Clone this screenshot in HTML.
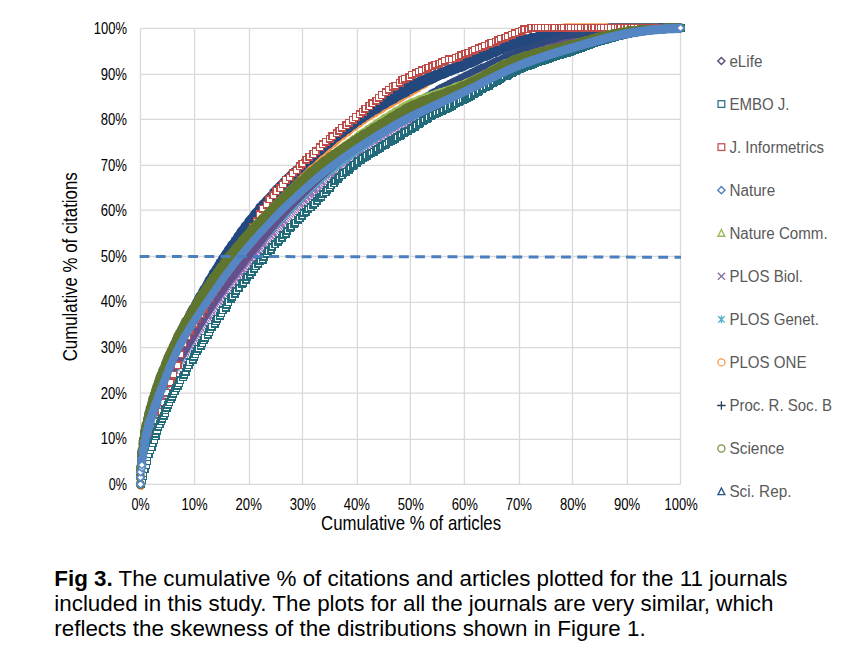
<!DOCTYPE html>
<html><head><meta charset="utf-8"><title>Fig 3</title><style>html,body{margin:0;padding:0;background:#fff}</style></head><body>
<svg width="846" height="667" viewBox="0 0 846 667" style="display:block;font-family:'Liberation Sans',sans-serif">
<rect width="846" height="667" fill="#fff"/>
<defs><marker id="mN" markerUnits="userSpaceOnUse" markerWidth="14" markerHeight="14" refX="7" refY="7" orient="0" overflow="visible"><path d="M7,2.20 L11.80,7 L7,11.80 L2.20,7Z" fill="#5687C4"/></marker><marker id="mNw" markerUnits="userSpaceOnUse" markerWidth="14" markerHeight="14" refX="7" refY="7" orient="0" overflow="visible"><path d="M7,3.30 L10.70,7 L7,10.70 L3.30,7Z" fill="#fff" stroke="#5687C4" stroke-width="1.40"/></marker><marker id="mE" markerUnits="userSpaceOnUse" markerWidth="14" markerHeight="14" refX="7" refY="7" orient="0" overflow="visible"><path d="M7,2.50 L11.50,7 L7,11.50 L2.50,7Z" fill="#66508A"/></marker><marker id="mT" markerUnits="userSpaceOnUse" markerWidth="14" markerHeight="14" refX="7" refY="7" orient="0" overflow="visible"><rect x="3.90" y="3.90" width="6.20" height="6.20" fill="#fff" stroke="#216B7A" stroke-width="1.80" shape-rendering="crispEdges"/></marker><marker id="mT2" markerUnits="userSpaceOnUse" markerWidth="14" markerHeight="14" refX="7" refY="7" orient="0" overflow="visible"><rect x="3.70" y="3.70" width="6.60" height="6.60" fill="#fff" stroke="#216B7A" stroke-width="1.40" shape-rendering="crispEdges"/></marker><marker id="mR" markerUnits="userSpaceOnUse" markerWidth="14" markerHeight="14" refX="7" refY="7" orient="0" overflow="visible"><rect x="3.73" y="3.73" width="6.55" height="6.55" fill="#fff" stroke="#BE4B48" stroke-width="1.45" shape-rendering="crispEdges"/></marker><marker id="mS" markerUnits="userSpaceOnUse" markerWidth="14" markerHeight="14" refX="7" refY="7" orient="0" overflow="visible"><circle cx="7" cy="7" r="4.30" fill="#60762F"/></marker><marker id="mO" markerUnits="userSpaceOnUse" markerWidth="14" markerHeight="14" refX="7" refY="7" orient="0" overflow="visible"><circle cx="7" cy="7" r="4.30" fill="#F79646"/></marker><marker id="mA" markerUnits="userSpaceOnUse" markerWidth="14" markerHeight="14" refX="7" refY="7" orient="0" overflow="visible"><circle cx="7" cy="7" r="4.40" fill="#23497F"/></marker><marker id="mC" markerUnits="userSpaceOnUse" markerWidth="14" markerHeight="14" refX="7" refY="7" orient="0" overflow="visible"><circle cx="7" cy="7" r="2.70" fill="#2E4A7E"/></marker><marker id="mB" markerUnits="userSpaceOnUse" markerWidth="14" markerHeight="14" refX="7" refY="7" orient="0" overflow="visible"><path d="M2.80,7 H11.20 M7,2.80 V11.20" fill="none" stroke="#23497F" stroke-width="1.60"/></marker><marker id="mG" markerUnits="userSpaceOnUse" markerWidth="14" markerHeight="14" refX="7" refY="7" orient="0" overflow="visible"><circle cx="7" cy="7" r="4.20" fill="#9BBB59"/></marker><marker id="mX" markerUnits="userSpaceOnUse" markerWidth="14" markerHeight="14" refX="7" refY="7" orient="0" overflow="visible"><path d="M3.60,3.60 L10.40,10.40 M10.40,3.60 L3.60,10.40" fill="none" stroke="#9966B2" stroke-width="1.10"/></marker><marker id="mAst" markerUnits="userSpaceOnUse" markerWidth="14" markerHeight="14" refX="7" refY="7" orient="0" overflow="visible"><path d="M3.70,3.70 L10.30,10.30 M10.30,3.70 L3.70,10.30 M7,3.30 V10.70" fill="none" stroke="#4BACC6" stroke-width="1.50"/></marker></defs>
<path d="M140.5,28.4V484.3M140.5,484.3H680.5M194.6,28.4V484.3M140.5,439.3H680.5M249.5,28.4V484.3M140.5,393.2H680.5M302.5,28.4V484.3M140.5,347.6H680.5M357.4,28.4V484.3M140.5,302.4H680.5M410.3,28.4V484.3M140.5,256.5H680.5M464.4,28.4V484.3M140.5,210.1H680.5M519.5,28.4V484.3M140.5,165.4H680.5M572.5,28.4V484.3M140.5,119.4H680.5M627.4,28.4V484.3M140.5,74.3H680.5M680.5,28.4V484.3M140.5,28.4H680.5" stroke="#D9D9D9" stroke-width="1.3" fill="none"/>
<polyline points="140.5,484.3 140.5,478.8 140.5,474.7 140.5,472.0 141.9,467.9 141.9,466.5 141.9,463.7 141.9,462.4 141.9,459.6 141.9,458.3 141.9,456.9 141.9,454.1 143.2,452.8 143.2,451.4 143.2,450.0 143.2,448.7 143.2,447.3 143.2,445.9 143.2,444.6 143.2,443.2 144.6,441.8 144.6,440.4 144.6,439.1 144.6,437.7 144.6,436.3 144.6,435.0 146.0,433.6 146.0,432.2 146.0,430.8 146.0,429.5 146.0,428.1 147.4,426.7 147.4,425.4 147.4,424.0 147.4,422.6 148.7,421.3 148.7,419.9 148.7,418.5 148.7,417.1 150.1,415.8 150.1,414.4 150.1,413.0 150.1,411.7 151.5,411.7 151.5,410.3 151.5,408.9 151.5,407.5 152.8,407.5 152.8,406.2 152.8,404.8 152.8,403.4 154.2,402.1 154.2,400.7 154.2,399.3 155.6,398.0 155.6,396.6 155.6,395.2 155.6,393.8 156.9,393.8 156.9,392.5 156.9,391.1 156.9,389.7 158.3,389.7 158.3,388.4 158.3,387.0 158.3,385.6 159.7,385.6 159.7,384.2 159.7,382.9 159.7,381.5 161.1,381.5 161.1,380.1 161.1,378.8 162.4,377.4 162.4,376.0 162.4,374.7 163.8,374.7 163.8,373.3 163.8,371.9 165.2,370.5 165.2,369.2 166.5,367.8 166.5,366.4 166.5,365.1 167.9,365.1 167.9,363.7 167.9,362.3 169.3,360.9 169.3,359.6 170.7,358.2 170.7,356.8 170.7,355.5 172.0,355.5 172.0,354.1 172.0,352.7 173.4,352.7 173.4,351.4 173.4,350.0 174.8,350.0 174.8,348.6 174.8,347.2 176.1,345.9 176.1,344.5 177.5,343.1 177.5,341.8 177.5,340.4 178.9,340.4 178.9,339.0 178.9,337.6 180.2,337.6 180.2,336.3 180.2,334.9 181.6,334.9 181.6,333.5 181.6,332.2 183.0,332.2 183.0,330.8 184.4,329.4 184.4,328.1 185.7,326.7 185.7,325.3 187.1,323.9 187.1,322.6 188.5,322.6 188.5,321.2 188.5,319.8 189.8,319.8 189.8,318.5 189.8,317.1 191.2,317.1 191.2,315.7 192.6,314.3 192.6,313.0 194.0,311.6 194.0,310.2 195.3,310.2 195.3,308.9 195.3,307.5 196.7,307.5 196.7,306.1 198.1,304.8 198.1,303.4 199.4,303.4 199.4,302.0 199.4,300.6 200.8,300.6 200.8,299.3 200.8,297.9 202.2,297.9 202.2,296.5 203.5,295.2 203.5,293.8 204.9,293.8 204.9,292.4 204.9,291.0 206.3,291.0 206.3,289.7 207.7,288.3 207.7,286.9 209.0,286.9 209.0,285.6 209.0,284.2 210.4,284.2 210.4,282.8 211.8,281.5 211.8,280.1 213.1,280.1 213.1,278.7 213.1,277.3 214.5,277.3 214.5,276.0 215.9,276.0 215.9,274.6 215.9,273.2 217.3,273.2 217.3,271.9 218.6,271.9 218.6,270.5 218.6,269.1 220.0,269.1 220.0,267.7 221.4,267.7 221.4,266.4 221.4,265.0 222.7,265.0 222.7,263.6 224.1,263.6 224.1,262.3 224.1,260.9 225.5,260.9 225.5,259.5 226.8,259.5 226.8,258.2 226.8,256.8 228.2,256.8 228.2,255.4 229.6,255.4 229.6,254.0 231.0,252.7 231.0,251.3 232.3,251.3 232.3,249.9 233.7,249.9 233.7,248.6 233.7,247.2 235.1,247.2 235.1,245.8 236.4,245.8 236.4,244.4 237.8,243.1 237.8,241.7 239.2,241.7 239.2,240.3 240.6,240.3 240.6,239.0 240.6,237.6 241.9,237.6 241.9,236.2 243.3,236.2 243.3,234.9 244.7,234.9 244.7,233.5 244.7,232.1 246.0,232.1 246.0,230.7 247.4,230.7 247.4,229.4 248.8,229.4 248.8,228.0 250.1,226.6 250.1,225.3 251.5,225.3 251.5,223.9 252.9,223.9 252.9,222.5 254.3,222.5 254.3,221.1 255.6,219.8 255.6,218.4 257.0,218.4 257.0,217.0 258.4,217.0 258.4,215.7 259.7,215.7 259.7,214.3 261.1,212.9 262.5,211.6 262.5,210.2 263.9,210.2 263.9,208.8 265.2,208.8 265.2,207.4 266.6,207.4 266.6,206.1 268.0,206.1 268.0,204.7 269.3,204.7 269.3,203.3 270.7,202.0 270.7,200.6 272.1,200.6 272.1,199.2 273.4,199.2 273.4,197.8 274.8,197.8 274.8,196.5 276.2,196.5 276.2,195.1 277.6,195.1 277.6,193.7 278.9,193.7 278.9,192.4 280.3,192.4 280.3,191.0 281.7,191.0 281.7,189.6 283.0,189.6 283.0,188.3 284.4,188.3 284.4,186.9 285.8,186.9 285.8,185.5 287.2,185.5 287.2,184.1 288.5,184.1 288.5,182.8 289.9,182.8 289.9,181.4 291.3,181.4 291.3,180.0 292.6,180.0 292.6,178.7 294.0,178.7 294.0,177.3 295.4,177.3 295.4,175.9 296.7,175.9 296.7,174.5 298.1,174.5 298.1,173.2 299.5,173.2 299.5,171.8 300.9,171.8 300.9,170.4 302.2,170.4 302.2,169.1 303.6,169.1 303.6,167.7 305.0,167.7 305.0,166.3 306.3,166.3 306.3,165.0 307.7,165.0 307.7,163.6 309.1,163.6 310.5,162.2 311.8,162.2 311.8,160.8 313.2,160.8 313.2,159.5 314.6,159.5 314.6,158.1 315.9,158.1 315.9,156.7 317.3,156.7 317.3,155.4 318.7,155.4 318.7,154.0 320.0,154.0 320.0,152.6 321.4,152.6 322.8,151.2 324.2,149.9 325.5,149.9 325.5,148.5 326.9,148.5 326.9,147.1 328.3,147.1 328.3,145.8 329.6,145.8 329.6,144.4 331.0,144.4 331.0,143.0 332.4,143.0 333.8,143.0 333.8,141.6 335.1,141.6 335.1,140.3 336.5,140.3 336.5,138.9 337.9,138.9 337.9,137.5 339.2,137.5 340.6,136.2 342.0,136.2 342.0,134.8 343.3,134.8 343.3,133.4 344.7,133.4 344.7,132.1 346.1,132.1 347.5,132.1 347.5,130.7 348.8,130.7 348.8,129.3 350.2,129.3 350.2,127.9 351.6,127.9 352.9,126.6 354.3,126.6 354.3,125.2 355.7,125.2 355.7,123.8 357.1,123.8 358.4,123.8 358.4,122.5 359.8,122.5 359.8,121.1 361.2,121.1 362.5,119.7 363.9,119.7 363.9,118.3 365.3,118.3 365.3,117.0 366.6,117.0 368.0,117.0 368.0,115.6 369.4,115.6 369.4,114.2 370.8,114.2 372.1,114.2 372.1,112.9 373.5,112.9 374.9,112.9 374.9,111.5 376.2,111.5 376.2,110.1 377.6,110.1 379.0,110.1 379.0,108.8 380.4,108.8 381.7,108.8 381.7,107.4 383.1,107.4 383.1,106.0 384.5,106.0 385.8,106.0 385.8,104.6 387.2,104.6 388.6,104.6 388.6,103.3 389.9,103.3 391.3,103.3 391.3,101.9 392.7,101.9 394.1,100.5 395.4,100.5 395.4,99.2 396.8,99.2 398.2,99.2 398.2,97.8 399.5,97.8 400.9,97.8 400.9,96.4 402.3,96.4 403.7,95.0 405.0,95.0 405.0,93.7 406.4,93.7 407.8,93.7 407.8,92.3 409.1,92.3 410.5,92.3 410.5,90.9 411.9,90.9 411.9,89.6 413.2,89.6 414.6,89.6 414.6,88.2 416.0,88.2 417.4,88.2 417.4,86.8 418.7,86.8 420.1,85.5 421.5,85.5 421.5,84.1 422.8,84.1 424.2,84.1 424.2,82.7 425.6,82.7 427.0,81.3 428.3,81.3 428.3,80.0 429.7,80.0 431.1,80.0 431.1,78.6 432.4,78.6 432.4,77.2 433.8,77.2 435.2,77.2 435.2,75.9 436.5,75.9 437.9,75.9 437.9,74.5 439.3,74.5 440.7,74.5 440.7,73.1 442.0,73.1 443.4,73.1 444.8,71.7 446.1,71.7 447.5,71.7 447.5,70.4 448.9,70.4 450.3,70.4 450.3,69.0 451.6,69.0 453.0,69.0 454.4,69.0 454.4,67.6 455.7,67.6 457.1,67.6 457.1,66.3 458.5,66.3 459.8,66.3 461.2,66.3 461.2,64.9 462.6,64.9 464.0,64.9 464.0,63.5 465.3,63.5 466.7,63.5 466.7,62.2 468.1,62.2 469.4,62.2 469.4,60.8 470.8,60.8 472.2,60.8 472.2,59.4 473.6,59.4 474.9,59.4 474.9,58.0 476.3,58.0 476.3,56.7 477.7,56.7 479.0,56.7 479.0,55.3 480.4,55.3 481.8,55.3 481.8,53.9 483.2,53.9 484.5,53.9 484.5,52.6 485.9,52.6 487.3,52.6 487.3,51.2 488.6,51.2 490.0,51.2 490.0,49.8 491.4,49.8 492.7,49.8 494.1,49.8 494.1,48.4 495.5,48.4 496.9,48.4 496.9,47.1 498.2,47.1 499.6,47.1 501.0,47.1 501.0,45.7 502.3,45.7 503.7,45.7 505.1,45.7 505.1,44.3 506.5,44.3 507.8,44.3 509.2,44.3 510.6,44.3 510.6,43.0 511.9,43.0 513.3,43.0 514.7,43.0 516.0,41.6 517.4,41.6 518.8,41.6 520.2,41.6 520.2,40.2 521.5,40.2 522.9,40.2 524.3,40.2 525.6,40.2 527.0,40.2 527.0,38.9 528.4,38.9 529.8,38.9 531.1,38.9 532.5,38.9 533.9,38.9 533.9,37.5 535.2,37.5 536.6,37.5 538.0,37.5 538.0,36.1 539.3,36.1 540.7,36.1 542.1,36.1 542.1,34.7 543.5,34.7 544.8,34.7 544.8,33.4 546.2,33.4 547.6,33.4 548.9,33.4 548.9,32.0 550.3,32.0 551.7,32.0 553.1,32.0 553.1,30.6 554.4,30.6 555.8,30.6 557.2,30.6 557.2,29.3 558.5,29.3 559.9,29.3 561.3,29.3 562.6,29.3 564.0,29.3 564.0,27.9 565.4,27.9 566.8,27.9 568.1,27.9 569.5,27.9 570.9,27.9 572.2,27.9 573.6,27.9 575.0,27.9 576.4,27.9 577.7,27.9 579.1,27.9 580.5,27.9 581.8,27.9 583.2,27.9 584.6,27.9 585.9,27.9 587.3,27.9 588.7,27.9 590.1,27.9 591.4,27.9 592.8,27.9 594.2,27.9 595.5,27.9 596.9,27.9 598.3,27.9 599.7,27.9 601.0,27.9 602.4,27.9 603.8,27.9 605.1,27.9 606.5,27.9 607.9,27.9 609.2,27.9 610.6,27.9 612.0,27.9 613.4,27.9 614.7,27.9 616.1,27.9 617.5,27.9 618.8,27.9 620.2,27.9 621.6,27.9 623.0,27.9 624.3,27.9 625.7,27.9 627.1,27.9 628.4,27.9 629.8,27.9 631.2,27.9 632.5,27.9 633.9,27.9 635.3,27.9 636.7,27.9 638.0,27.9 639.4,27.9 640.8,27.9 642.1,27.9 643.5,27.9 644.9,27.9 646.3,27.9 647.6,27.9 649.0,27.9 650.4,27.9 651.7,27.9 653.1,27.9 654.5,27.9 655.8,27.9 657.2,27.9 658.6,27.9 660.0,27.9 661.3,27.9 662.7,27.9 664.1,27.9 665.4,27.9 666.8,27.9 668.2,27.9 669.6,27.9 670.9,27.9 672.3,27.9 673.7,27.9 675.0,27.9 676.4,27.9 677.8,27.9 679.1,27.9 680.5,27.9" fill="none" stroke="none" marker-start="url(#mO)" marker-mid="url(#mO)" marker-end="url(#mO)"/>
<circle cx="140.9" cy="485.6" r="4.4" fill="#F79646"/>
<polyline points="140.5,484.3 141.9,472.0 141.9,463.7 143.2,456.9 143.2,451.4 144.6,445.9 146.0,441.8 146.0,437.7 147.4,433.6 148.7,430.8 148.7,428.1 150.1,425.4 150.1,422.6 151.5,419.9 152.8,417.1 152.8,415.8 154.2,413.0 154.2,411.7 155.6,408.9 156.9,407.5 156.9,404.8 158.3,403.4 159.7,400.7 159.7,399.3 161.1,396.6 161.1,395.2 162.4,393.8 163.8,391.1 163.8,389.7 165.2,388.4 165.2,385.6 166.5,384.2 167.9,382.9 167.9,381.5 169.3,380.1 170.7,377.4 170.7,376.0 172.0,374.7 172.0,373.3 173.4,371.9 174.8,370.5 174.8,369.2 176.1,367.8 176.1,366.4 177.5,365.1 178.9,363.7 178.9,362.3 180.2,360.9 181.6,359.6 181.6,358.2 183.0,356.8 183.0,355.5 184.4,354.1 185.7,352.7 185.7,351.4 187.1,350.0 187.1,348.6 188.5,347.2 189.8,345.9 189.8,344.5 191.2,343.1 192.6,341.8 192.6,340.4 194.0,339.0 194.0,337.6 195.3,336.3 196.7,334.9 196.7,333.5 198.1,332.2 198.1,330.8 199.4,329.4 200.8,328.1 200.8,326.7 202.2,325.3 203.5,323.9 203.5,322.6 204.9,321.2 204.9,319.8 206.3,318.5 207.7,317.1 207.7,315.7 209.0,315.7 209.0,314.3 210.4,313.0 211.8,311.6 211.8,310.2 213.1,308.9 214.5,307.5 214.5,306.1 215.9,304.8 217.3,303.4 218.6,302.0 218.6,300.6 220.0,299.3 220.0,297.9 221.4,296.5 222.7,296.5 222.7,295.2 224.1,293.8 225.5,292.4 225.5,291.0 226.8,289.7 228.2,288.3 229.6,286.9 229.6,285.6 231.0,284.2 232.3,282.8 233.7,281.5 233.7,280.1 235.1,278.7 236.4,278.7 236.4,277.3 237.8,276.0 237.8,274.6 239.2,273.2 240.6,273.2 240.6,271.9 241.9,270.5 241.9,269.1 243.3,269.1 244.7,267.7 244.7,266.4 246.0,265.0 247.4,263.6 248.8,262.3 248.8,260.9 250.1,259.5 251.5,259.5 251.5,258.2 252.9,256.8 252.9,255.4 254.3,255.4 255.6,254.0 255.6,252.7 257.0,251.3 258.4,251.3 258.4,249.9 259.7,248.6 261.1,247.2 262.5,245.8 262.5,244.4 263.9,244.4 263.9,243.1 265.2,241.7 266.6,240.3 268.0,239.0 269.3,237.6 270.7,236.2 270.7,234.9 272.1,233.5 273.4,233.5 273.4,232.1 274.8,230.7 276.2,229.4 277.6,228.0 278.9,226.6 280.3,225.3 280.3,223.9 281.7,223.9 281.7,222.5 283.0,221.1 284.4,221.1 284.4,219.8 285.8,218.4 287.2,217.0 288.5,215.7 289.9,214.3 291.3,212.9 292.6,211.6 294.0,210.2 295.4,208.8 296.7,207.4 298.1,206.1 299.5,204.7 299.5,203.3 300.9,203.3 302.2,202.0 303.6,200.6 303.6,199.2 305.0,199.2 306.3,197.8 306.3,196.5 307.7,196.5 309.1,195.1 309.1,193.7 310.5,193.7 310.5,192.4 311.8,192.4 313.2,191.0 313.2,189.6 314.6,189.6 314.6,188.3 315.9,188.3 317.3,186.9 317.3,185.5 318.7,185.5 320.0,184.1 321.4,182.8 321.4,181.4 322.8,181.4 324.2,180.0 325.5,178.7 326.9,177.3 328.3,175.9 329.6,174.5 331.0,174.5 331.0,173.2 332.4,173.2 332.4,171.8 333.8,171.8 335.1,170.4 336.5,169.1 337.9,167.7 339.2,167.7 339.2,166.3 340.6,166.3 342.0,165.0 343.3,163.6 344.7,162.2 346.1,162.2 346.1,160.8 347.5,160.8 347.5,159.5 348.8,159.5 350.2,158.1 351.6,156.7 352.9,156.7 354.3,155.4 355.7,154.0 357.1,154.0 357.1,152.6 358.4,152.6 358.4,151.2 359.8,151.2 361.2,151.2 361.2,149.9 362.5,149.9 363.9,148.5 365.3,147.1 366.6,147.1 368.0,145.8 369.4,144.4 370.8,144.4 372.1,143.0 373.5,141.6 374.9,141.6 374.9,140.3 376.2,140.3 377.6,138.9 379.0,138.9 379.0,137.5 380.4,137.5 381.7,136.2 383.1,136.2 384.5,134.8 385.8,134.8 385.8,133.4 387.2,133.4 388.6,132.1 389.9,132.1 391.3,130.7 392.7,129.3 394.1,129.3 395.4,127.9 396.8,127.9 398.2,126.6 399.5,125.2 400.9,125.2 402.3,123.8 403.7,123.8 405.0,122.5 406.4,122.5 407.8,121.1 409.1,121.1 409.1,119.7 410.5,119.7 411.9,119.7 411.9,118.3 413.2,118.3 414.6,117.0 416.0,117.0 417.4,115.6 418.7,115.6 420.1,114.2 421.5,114.2 422.8,112.9 424.2,112.9 425.6,111.5 427.0,111.5 428.3,110.1 429.7,110.1 431.1,110.1 431.1,108.8 432.4,108.8 433.8,108.8 433.8,107.4 435.2,107.4 436.5,107.4 437.9,106.0 439.3,106.0 440.7,104.6 442.0,104.6 443.4,103.3 444.8,103.3 446.1,101.9 447.5,101.9 448.9,101.9 448.9,100.5 450.3,100.5 451.6,100.5 453.0,99.2 454.4,99.2 455.7,97.8 457.1,97.8 458.5,96.4 459.8,96.4 461.2,95.0 462.6,95.0 464.0,93.7 465.3,93.7 466.7,93.7 466.7,92.3 468.1,92.3 469.4,90.9 470.8,90.9 472.2,89.6 473.6,89.6 474.9,88.2 476.3,88.2 477.7,86.8 479.0,86.8 480.4,85.5 481.8,85.5 483.2,84.1 484.5,84.1 485.9,82.7 487.3,82.7 488.6,81.3 490.0,81.3 490.0,80.0 491.4,80.0 492.7,80.0 492.7,78.6 494.1,78.6 495.5,78.6 495.5,77.2 496.9,77.2 498.2,75.9 499.6,75.9 501.0,74.5 502.3,74.5 503.7,74.5 503.7,73.1 505.1,73.1 506.5,73.1 506.5,71.7 507.8,71.7 509.2,70.4 510.6,70.4 511.9,70.4 511.9,69.0 513.3,69.0 514.7,69.0 516.0,67.6 517.4,67.6 518.8,66.3 520.2,66.3 521.5,66.3 521.5,64.9 522.9,64.9 524.3,64.9 525.6,64.9 525.6,63.5 527.0,63.5 528.4,63.5 529.8,62.2 531.1,62.2 532.5,62.2 532.5,60.8 533.9,60.8 535.2,60.8 536.6,60.8 536.6,59.4 538.0,59.4 539.3,59.4 540.7,58.0 542.1,58.0 543.5,58.0 544.8,56.7 546.2,56.7 547.6,56.7 548.9,55.3 550.3,55.3 551.7,55.3 553.1,53.9 554.4,53.9 555.8,53.9 557.2,52.6 558.5,52.6 559.9,52.6 561.3,52.6 561.3,51.2 562.6,51.2 564.0,51.2 565.4,51.2 566.8,49.8 568.1,49.8 569.5,49.8 570.9,48.4 572.2,48.4 573.6,48.4 575.0,47.1 576.4,47.1 577.7,47.1 579.1,47.1 580.5,45.7 581.8,45.7 583.2,45.7 584.6,44.3 585.9,44.3 587.3,44.3 588.7,44.3 590.1,43.0 591.4,43.0 592.8,43.0 594.2,41.6 595.5,41.6 596.9,41.6 598.3,41.6 598.3,40.2 599.7,40.2 601.0,40.2 602.4,40.2 603.8,38.9 605.1,38.9 606.5,38.9 607.9,38.9 609.2,37.5 610.6,37.5 612.0,37.5 613.4,37.5 614.7,36.1 616.1,36.1 617.5,36.1 618.8,36.1 620.2,36.1 620.2,34.7 621.6,34.7 623.0,34.7 624.3,34.7 625.7,34.7 627.1,34.7 627.1,33.4 628.4,33.4 629.8,33.4 631.2,33.4 632.5,33.4 633.9,33.4 635.3,32.0 636.7,32.0 638.0,32.0 639.4,32.0 640.8,32.0 642.1,32.0 643.5,30.6 644.9,30.6 646.3,30.6 647.6,30.6 649.0,30.6 650.4,30.6 651.7,30.6 653.1,30.6 654.5,29.3 655.8,29.3 657.2,29.3 658.6,29.3 660.0,29.3 661.3,29.3 662.7,29.3 664.1,29.3 665.4,29.3 666.8,29.3 668.2,29.3 669.6,29.3 670.9,29.3 672.3,29.3 673.7,29.3 675.0,27.9 676.4,27.9 677.8,27.9 679.1,27.9 680.5,27.9" fill="none" stroke="none" marker-start="url(#mX)" marker-mid="url(#mX)" marker-end="url(#mX)"/>
<polyline points="140.5,484.3 141.1,474.7 141.7,467.9 142.3,462.4 142.9,457.7 143.5,453.5 144.1,449.7 144.7,446.2 145.3,442.9 145.9,439.8 146.5,436.9 147.1,434.3 147.7,431.9 148.3,429.6 148.9,427.5 149.5,425.4 150.1,423.5 150.7,421.6 151.3,419.7 151.9,418.0 152.5,416.2 153.1,414.5 153.7,412.9 154.3,411.2 154.9,409.6 155.5,408.1 156.1,406.5 156.7,405.0 157.3,403.5 157.9,402.0 158.5,400.5 159.1,399.0 159.7,397.5 160.3,396.1 160.9,394.6 161.5,393.2 162.1,391.8 162.7,390.4 163.3,389.1 163.9,387.8 164.5,386.5 165.1,385.3 165.7,384.0 166.3,382.8 166.9,381.6 167.5,380.5 168.1,379.3 168.7,378.2 169.3,377.1 169.9,376.0 170.5,374.9 171.1,373.8 171.7,372.7 172.3,371.7 172.9,370.6 173.5,369.5 174.1,368.5 174.7,367.5 175.3,366.4 175.9,365.4 176.5,364.4 177.1,363.3 177.7,362.3 178.3,361.3 178.9,360.3 179.5,359.3 180.1,358.2 180.7,357.2 181.3,356.2 181.9,355.2 182.5,354.2 183.1,353.1 183.7,352.1 184.3,351.1 184.9,350.0 185.5,349.0 186.1,348.0 186.7,346.9 187.3,345.8 187.9,344.8 188.5,343.7 189.1,342.7 189.7,341.6 190.3,340.6 190.9,339.5 191.5,338.4 192.1,337.4 192.7,336.3 193.3,335.3 193.9,334.2 194.5,333.2 195.1,332.1 195.7,331.1 196.3,330.0 196.9,329.0 197.5,328.0 198.1,326.9 198.7,325.9 199.3,324.9 199.9,323.9 200.5,322.8 201.1,321.8 201.7,320.8 202.3,319.8 202.9,318.8 203.5,317.8 204.1,316.8 204.7,315.8 205.3,314.8 205.9,313.9 206.5,312.9 207.1,311.9 207.7,311.0 208.3,310.0 208.9,309.0 209.5,308.1 210.1,307.2 210.7,306.2 211.3,305.3 211.9,304.4 212.5,303.5 213.1,302.6 213.7,301.6 214.3,300.8 214.9,299.9 215.5,299.0 216.1,298.1 216.7,297.2 217.3,296.3 217.9,295.5 218.5,294.6 219.1,293.7 219.7,292.9 220.3,292.0 220.9,291.2 221.5,290.3 222.1,289.5 222.7,288.7 223.3,287.8 223.9,287.0 224.5,286.2 225.1,285.3 225.7,284.5 226.3,283.7 226.9,282.9 227.5,282.1 228.1,281.3 228.7,280.5 229.3,279.7 229.9,278.9 230.5,278.1 231.1,277.3 231.7,276.5 232.3,275.7 232.9,274.9 233.5,274.1 234.1,273.3 234.7,272.6 235.3,271.8 235.9,271.0 236.5,270.2 237.1,269.5 237.7,268.7 238.3,267.9 238.9,267.2 239.5,266.4 240.1,265.6 240.7,264.9 241.3,264.1 241.9,263.4 242.5,262.6 243.1,261.9 243.7,261.1 244.3,260.4 244.9,259.6 245.5,258.9 246.1,258.1 246.7,257.4 247.3,256.6 247.9,255.9 248.5,255.1 249.1,254.4 249.7,253.7 250.3,252.9 250.9,252.2 251.5,251.5 252.1,250.7 252.7,250.0 253.3,249.3 253.9,248.6 254.5,247.8 255.1,247.1 255.7,246.4 256.3,245.7 256.9,245.0 257.5,244.3 258.1,243.5 258.7,242.8 259.3,242.1 259.9,241.4 260.5,240.7 261.1,240.0 261.7,239.3 262.3,238.6 262.9,237.9 263.5,237.2 264.1,236.5 264.7,235.8 265.3,235.2 265.9,234.5 266.5,233.8 267.1,233.1 267.7,232.4 268.3,231.7 268.9,231.1 269.5,230.4 270.1,229.7 270.7,229.0 271.3,228.4 271.9,227.7 272.5,227.0 273.1,226.3 273.7,225.7 274.3,225.0 274.9,224.4 275.5,223.7 276.1,223.0 276.7,222.4 277.3,221.7 277.9,221.1 278.5,220.4 279.1,219.8 279.7,219.1 280.3,218.5 280.9,217.8 281.5,217.2 282.1,216.5 282.7,215.9 283.3,215.3 283.9,214.6 284.5,214.0 285.1,213.3 285.7,212.7 286.3,212.1 286.9,211.5 287.5,210.8 288.1,210.2 288.7,209.6 289.3,209.0 289.9,208.3 290.5,207.7 291.1,207.1 291.7,206.5 292.3,205.8 292.9,205.2 293.5,204.6 294.1,204.0 294.7,203.4 295.3,202.7 295.9,202.1 296.5,201.5 297.1,200.9 297.7,200.3 298.3,199.6 298.9,199.0 299.5,198.4 300.1,197.8 300.7,197.2 301.3,196.6 301.9,196.0 302.5,195.4 303.1,194.8 303.7,194.2 304.3,193.6 304.9,193.0 305.5,192.4 306.1,191.8 306.7,191.2 307.3,190.6 307.9,190.0 308.5,189.4 309.1,188.8 309.7,188.2 310.3,187.6 310.9,187.0 311.5,186.4 312.1,185.9 312.7,185.3 313.3,184.7 313.9,184.1 314.5,183.6 315.1,183.0 315.7,182.4 316.3,181.9 316.9,181.3 317.5,180.7 318.1,180.2 318.7,179.6 319.3,179.1 319.9,178.5 320.5,178.0 321.1,177.4 321.7,176.9 322.3,176.3 322.9,175.8 323.5,175.3 324.1,174.7 324.7,174.2 325.3,173.7 325.9,173.2 326.5,172.6 327.1,172.1 327.7,171.6 328.3,171.1 328.9,170.6 329.5,170.1 330.1,169.6 330.7,169.1 331.3,168.6 331.9,168.1 332.5,167.6 333.1,167.1 333.7,166.6 334.3,166.1 334.9,165.6 335.5,165.2 336.1,164.7 336.7,164.2 337.3,163.7 337.9,163.3 338.5,162.8 339.1,162.3 339.7,161.9 340.3,161.4 340.9,160.9 341.5,160.5 342.1,160.0 342.7,159.6 343.3,159.1 343.9,158.7 344.5,158.2 345.1,157.7 345.7,157.3 346.3,156.9 346.9,156.4 347.5,156.0 348.1,155.5 348.7,155.1 349.3,154.6 349.9,154.2 350.5,153.8 351.1,153.3 351.7,152.9 352.3,152.4 352.9,152.0 353.5,151.6 354.1,151.2 354.7,150.7 355.3,150.3 355.9,149.9 356.5,149.4 357.1,149.0 357.7,148.6 358.3,148.2 358.9,147.8 359.5,147.3 360.1,146.9 360.7,146.5 361.3,146.1 361.9,145.7 362.5,145.3 363.1,144.9 363.7,144.5 364.3,144.1 364.9,143.7 365.5,143.2 366.1,142.8 366.7,142.4 367.3,142.0 367.9,141.6 368.5,141.2 369.1,140.8 369.7,140.5 370.3,140.1 370.9,139.7 371.5,139.3 372.1,138.9 372.7,138.5 373.3,138.1 373.9,137.7 374.5,137.3 375.1,137.0 375.7,136.6 376.3,136.2 376.9,135.8 377.5,135.4 378.1,135.1 378.7,134.7 379.3,134.3 379.9,133.9 380.5,133.6 381.1,133.2 381.7,132.8 382.3,132.5 382.9,132.1 383.5,131.7 384.1,131.4 384.7,131.0 385.3,130.6 385.9,130.3 386.5,129.9 387.1,129.5 387.7,129.2 388.3,128.8 388.9,128.5 389.5,128.1 390.1,127.8 390.7,127.4 391.3,127.1 391.9,126.7 392.5,126.4 393.1,126.0 393.7,125.7 394.3,125.3 394.9,125.0 395.5,124.7 396.1,124.3 396.7,124.0 397.3,123.6 397.9,123.3 398.5,123.0 399.1,122.6 399.7,122.3 400.3,122.0 400.9,121.6 401.5,121.3 402.1,121.0 402.7,120.6 403.3,120.3 403.9,120.0 404.5,119.7 405.1,119.3 405.7,119.0 406.3,118.7 406.9,118.4 407.5,118.1 408.1,117.8 408.7,117.5 409.3,117.1 409.9,116.8 410.5,116.5 411.1,116.2 411.7,115.9 412.3,115.6 412.9,115.3 413.5,115.1 414.1,114.8 414.7,114.5 415.3,114.2 415.9,113.9 416.5,113.6 417.1,113.3 417.7,113.0 418.3,112.8 418.9,112.5 419.5,112.2 420.1,111.9 420.7,111.6 421.3,111.4 421.9,111.1 422.5,110.8 423.1,110.6 423.7,110.3 424.3,110.0 424.9,109.7 425.5,109.5 426.1,109.2 426.7,108.9 427.3,108.7 427.9,108.4 428.5,108.2 429.1,107.9 429.7,107.6 430.3,107.4 430.9,107.1 431.5,106.9 432.1,106.6 432.7,106.3 433.3,106.1 433.9,105.8 434.5,105.6 435.1,105.3 435.7,105.0 436.3,104.8 436.9,104.5 437.5,104.3 438.1,104.0 438.7,103.8 439.3,103.5 439.9,103.3 440.5,103.0 441.1,102.7 441.7,102.5 442.3,102.2 442.9,102.0 443.5,101.7 444.1,101.5 444.7,101.2 445.3,101.0 445.9,100.7 446.5,100.4 447.1,100.2 447.7,99.9 448.3,99.7 448.9,99.4 449.5,99.2 450.1,98.9 450.7,98.6 451.3,98.4 451.9,98.1 452.5,97.9 453.1,97.6 453.7,97.3 454.3,97.1 454.9,96.8 455.5,96.5 456.1,96.3 456.7,96.0 457.3,95.7 457.9,95.5 458.5,95.2 459.1,94.9 459.7,94.7 460.3,94.4 460.9,94.1 461.5,93.8 462.1,93.6 462.7,93.3 463.3,93.0 463.9,92.7 464.5,92.5 465.1,92.2 465.7,91.9 466.3,91.6 466.9,91.3 467.5,91.0 468.1,90.7 468.7,90.4 469.3,90.2 469.9,89.9 470.5,89.6 471.1,89.3 471.7,89.0 472.3,88.7 472.9,88.4 473.5,88.1 474.1,87.8 474.7,87.5 475.3,87.2 475.9,86.9 476.5,86.6 477.1,86.3 477.7,86.0 478.3,85.7 478.9,85.3 479.5,85.0 480.1,84.7 480.7,84.4 481.3,84.1 481.9,83.8 482.5,83.5 483.1,83.2 483.7,82.9 484.3,82.6 484.9,82.3 485.5,82.0 486.1,81.6 486.7,81.3 487.3,81.0 487.9,80.7 488.5,80.4 489.1,80.1 489.7,79.8 490.3,79.5 490.9,79.2 491.5,78.9 492.1,78.6 492.7,78.3 493.3,78.0 493.9,77.6 494.5,77.3 495.1,77.0 495.7,76.7 496.3,76.4 496.9,76.1 497.5,75.8 498.1,75.5 498.7,75.2 499.3,74.9 499.9,74.6 500.5,74.3 501.1,74.1 501.7,73.8 502.3,73.5 502.9,73.2 503.5,72.9 504.1,72.6 504.7,72.3 505.3,72.0 505.9,71.7 506.5,71.5 507.1,71.2 507.7,70.9 508.3,70.6 508.9,70.3 509.5,70.1 510.1,69.8 510.7,69.5 511.3,69.3 511.9,69.0 512.5,68.7 513.1,68.5 513.7,68.2 514.3,68.0 514.9,67.7 515.5,67.4 516.1,67.2 516.7,66.9 517.3,66.7 517.9,66.4 518.5,66.2 519.1,66.0 519.7,65.7 520.3,65.5 520.9,65.2 521.5,65.0 522.1,64.8 522.7,64.5 523.3,64.3 523.9,64.1 524.5,63.9 525.1,63.6 525.7,63.4 526.3,63.2 526.9,62.9 527.5,62.7 528.1,62.5 528.7,62.3 529.3,62.1 529.9,61.8 530.5,61.6 531.1,61.4 531.7,61.2 532.3,61.0 532.9,60.7 533.5,60.5 534.1,60.3 534.7,60.1 535.3,59.9 535.9,59.7 536.5,59.5 537.1,59.3 537.7,59.0 538.3,58.8 538.9,58.6 539.5,58.4 540.1,58.2 540.7,58.0 541.3,57.8 541.9,57.6 542.5,57.4 543.1,57.2 543.7,57.0 544.3,56.8 544.9,56.6 545.5,56.4 546.1,56.2 546.7,56.0 547.3,55.8 547.9,55.6 548.5,55.4 549.1,55.2 549.7,55.0 550.3,54.8 550.9,54.6 551.5,54.4 552.1,54.2 552.7,54.1 553.3,53.9 553.9,53.7 554.5,53.5 555.1,53.3 555.7,53.1 556.3,52.9 556.9,52.7 557.5,52.5 558.1,52.4 558.7,52.2 559.3,52.0 559.9,51.8 560.5,51.6 561.1,51.4 561.7,51.2 562.3,51.1 562.9,50.9 563.5,50.7 564.1,50.5 564.7,50.3 565.3,50.1 565.9,50.0 566.5,49.8 567.1,49.6 567.7,49.4 568.3,49.2 568.9,49.1 569.5,48.9 570.1,48.7 570.7,48.5 571.3,48.4 571.9,48.2 572.5,48.0 573.1,47.8 573.7,47.6 574.3,47.5 574.9,47.3 575.5,47.1 576.1,46.9 576.7,46.8 577.3,46.6 577.9,46.4 578.5,46.2 579.1,46.0 579.7,45.9 580.3,45.7 580.9,45.5 581.5,45.3 582.1,45.1 582.7,45.0 583.3,44.8 583.9,44.6 584.5,44.4 585.1,44.2 585.7,44.1 586.3,43.9 586.9,43.7 587.5,43.5 588.1,43.4 588.7,43.2 589.3,43.0 589.9,42.8 590.5,42.6 591.1,42.5 591.7,42.3 592.3,42.1 592.9,41.9 593.5,41.8 594.1,41.6 594.7,41.4 595.3,41.3 595.9,41.1 596.5,40.9 597.1,40.7 597.7,40.6 598.3,40.4 598.9,40.2 599.5,40.1 600.1,39.9 600.7,39.7 601.3,39.6 601.9,39.4 602.5,39.2 603.1,39.1 603.7,38.9 604.3,38.8 604.9,38.6 605.5,38.4 606.1,38.3 606.7,38.1 607.3,38.0 607.9,37.8 608.5,37.7 609.1,37.5 609.7,37.4 610.3,37.2 610.9,37.1 611.5,36.9 612.1,36.8 612.7,36.6 613.3,36.5 613.9,36.4 614.5,36.2 615.1,36.1 615.7,35.9 616.3,35.8 616.9,35.7 617.5,35.5 618.1,35.4 618.7,35.3 619.3,35.2 619.9,35.0 620.5,34.9 621.1,34.8 621.7,34.7 622.3,34.5 622.9,34.4 623.5,34.3 624.1,34.2 624.7,34.1 625.3,34.0 625.9,33.9 626.5,33.8 627.1,33.7 627.7,33.5 628.3,33.4 628.9,33.3 629.5,33.2 630.1,33.1 630.7,33.0 631.3,32.9 631.9,32.8 632.5,32.7 633.1,32.6 633.7,32.5 634.3,32.4 634.9,32.3 635.5,32.2 636.1,32.2 636.7,32.1 637.3,32.0 637.9,31.9 638.5,31.8 639.1,31.7 639.7,31.6 640.3,31.5 640.9,31.4 641.5,31.3 642.1,31.2 642.7,31.2 643.3,31.1 643.9,31.0 644.5,30.9 645.1,30.8 645.7,30.7 646.3,30.7 646.9,30.6 647.5,30.5 648.1,30.4 648.7,30.4 649.3,30.3 649.9,30.2 650.5,30.2 651.1,30.1 651.7,30.0 652.3,30.0 652.9,29.9 653.5,29.8 654.1,29.8 654.7,29.7 655.3,29.7 655.9,29.6 656.5,29.6 657.1,29.5 657.7,29.5 658.3,29.4 658.9,29.4 659.5,29.3 660.1,29.3 660.7,29.3 661.3,29.2 661.9,29.2 662.5,29.1 663.1,29.1 663.7,29.1 664.3,29.0 664.9,29.0 665.5,29.0 666.1,28.9 666.7,28.9 667.3,28.9 667.9,28.8 668.5,28.8 669.1,28.8 669.7,28.7 670.3,28.7 670.9,28.7 671.5,28.7 672.1,28.6 672.7,28.6 673.3,28.6 673.9,28.6 674.5,28.5 675.1,28.5 675.7,28.5 676.3,28.5 676.9,28.5 677.5,28.5 678.1,28.4 678.7,28.4 679.3,28.4 679.9,28.4 680.5,28.4" fill="none" stroke="none" marker-start="url(#mAst)" marker-mid="url(#mAst)" marker-end="url(#mAst)"/>
<polyline points="140.5,484.3 141.3,472.6 142.0,464.6 142.8,458.4 143.6,453.0 144.4,448.2 145.1,443.9 145.9,439.8 146.7,436.1 147.4,432.8 148.2,429.7 149.0,426.9 149.8,424.2 150.5,421.6 151.3,419.2 152.1,416.8 152.8,414.5 153.6,412.3 154.4,410.1 155.2,408.0 155.9,405.9 156.7,403.9 157.5,401.9 158.2,400.0 159.0,398.1 159.8,396.1 160.6,394.3 161.3,392.4 162.1,390.6 162.9,388.9 163.6,387.3 164.4,385.7 165.2,384.1 166.0,382.6 166.7,381.1 167.5,379.7 168.3,378.3 169.0,376.9 169.8,375.5 170.6,374.2 171.4,372.8 172.1,371.5 172.9,370.2 173.7,368.9 174.4,367.6 175.2,366.4 176.0,365.1 176.8,363.8 177.5,362.6 178.3,361.3 179.1,360.1 179.8,358.8 180.6,357.5 181.4,356.3 182.2,355.0 182.9,353.8 183.7,352.5 184.5,351.2 185.2,349.9 186.0,348.6 186.8,347.3 187.6,346.0 188.3,344.6 189.1,343.3 189.9,342.0 190.6,340.7 191.4,339.3 192.2,338.0 193.0,336.7 193.7,335.4 194.5,334.1 195.3,332.7 196.0,331.4 196.8,330.1 197.6,328.8 198.4,327.5 199.1,326.2 199.9,324.9 200.7,323.6 201.4,322.4 202.2,321.1 203.0,319.8 203.8,318.6 204.5,317.3 205.3,316.1 206.1,314.8 206.8,313.6 207.6,312.4 208.4,311.1 209.2,309.9 209.9,308.7 210.7,307.5 211.5,306.4 212.2,305.2 213.0,304.0 213.8,302.9 214.6,301.7 215.3,300.6 216.1,299.5 216.9,298.3 217.6,297.2 218.4,296.1 219.2,295.0 220.0,293.9 220.7,292.9 221.5,291.8 222.3,290.7 223.0,289.7 223.8,288.6 224.6,287.5 225.4,286.5 226.1,285.5 226.9,284.4 227.7,283.4 228.4,282.4 229.2,281.3 230.0,280.3 230.8,279.3 231.5,278.3 232.3,277.3 233.1,276.3 233.8,275.3 234.6,274.3 235.4,273.3 236.2,272.3 236.9,271.3 237.7,270.3 238.5,269.3 239.2,268.3 240.0,267.4 240.8,266.4 241.6,265.4 242.3,264.4 243.1,263.4 243.9,262.5 244.6,261.5 245.4,260.5 246.2,259.5 247.0,258.6 247.7,257.6 248.5,256.6 249.3,255.7 250.0,254.7 250.8,253.7 251.6,252.7 252.4,251.8 253.1,250.8 253.9,249.8 254.7,248.9 255.4,247.9 256.2,246.9 257.0,246.0 257.8,245.0 258.5,244.1 259.3,243.1 260.1,242.2 260.8,241.2 261.6,240.3 262.4,239.3 263.2,238.4 263.9,237.4 264.7,236.5 265.5,235.5 266.2,234.6 267.0,233.7 267.8,232.7 268.6,231.8 269.3,230.9 270.1,230.0 270.9,229.1 271.6,228.1 272.4,227.2 273.2,226.3 274.0,225.4 274.7,224.5 275.5,223.6 276.3,222.7 277.0,221.8 277.8,221.0 278.6,220.1 279.4,219.2 280.1,218.3 280.9,217.5 281.7,216.6 282.4,215.7 283.2,214.9 284.0,214.0 284.8,213.2 285.5,212.3 286.3,211.5 287.1,210.7 287.8,209.8 288.6,209.0 289.4,208.2 290.2,207.4 290.9,206.6 291.7,205.7 292.5,204.9 293.2,204.1 294.0,203.3 294.8,202.5 295.6,201.7 296.3,200.9 297.1,200.1 297.9,199.3 298.6,198.5 299.4,197.7 300.2,196.9 301.0,196.1 301.7,195.4 302.5,194.6 303.3,193.8 304.0,193.0 304.8,192.2 305.6,191.5 306.4,190.7 307.1,190.0 307.9,189.2 308.7,188.4 309.4,187.7 310.2,186.9 311.0,186.2 311.8,185.4 312.5,184.7 313.3,184.0 314.1,183.2 314.8,182.5 315.6,181.8 316.4,181.0 317.2,180.3 317.9,179.6 318.7,178.9 319.5,178.2 320.2,177.5 321.0,176.8 321.8,176.0 322.6,175.3 323.3,174.7 324.1,174.0 324.9,173.3 325.6,172.6 326.4,171.9 327.2,171.2 328.0,170.6 328.7,169.9 329.5,169.2 330.3,168.6 331.0,167.9 331.8,167.2 332.6,166.6 333.4,165.9 334.1,165.3 334.9,164.7 335.7,164.0 336.4,163.4 337.2,162.8 338.0,162.1 338.8,161.5 339.5,160.9 340.3,160.3 341.1,159.7 341.8,159.1 342.6,158.5 343.4,157.9 344.2,157.3 344.9,156.7 345.7,156.1 346.5,155.5 347.2,154.9 348.0,154.3 348.8,153.7 349.6,153.2 350.3,152.6 351.1,152.0 351.9,151.5 352.6,150.9 353.4,150.3 354.2,149.8 355.0,149.2 355.7,148.6 356.5,148.1 357.3,147.5 358.0,147.0 358.8,146.4 359.6,145.9 360.4,145.3 361.1,144.8 361.9,144.2 362.7,143.7 363.4,143.2 364.2,142.6 365.0,142.1 365.8,141.5 366.5,141.0 367.3,140.5 368.1,139.9 368.8,139.4 369.6,138.9 370.4,138.3 371.2,137.8 371.9,137.3 372.7,136.7 373.5,136.2 374.2,135.7 375.0,135.1 375.8,134.6 376.6,134.1 377.3,133.6 378.1,133.0 378.9,132.5 379.6,132.0 380.4,131.5 381.2,130.9 382.0,130.4 382.7,129.9 383.5,129.4 384.3,128.8 385.0,128.3 385.8,127.8 386.6,127.3 387.4,126.7 388.1,126.2 388.9,125.7 389.7,125.1 390.4,124.6 391.2,124.1 392.0,123.6 392.8,123.0 393.5,122.5 394.3,122.0 395.1,121.4 395.8,120.9 396.6,120.4 397.4,119.8 398.2,119.3 398.9,118.8 399.7,118.2 400.5,117.7 401.2,117.1 402.0,116.6 402.8,116.0 403.6,115.5 404.3,115.0 405.1,114.4 405.9,113.9 406.6,113.4 407.4,112.9 408.2,112.3 409.0,111.8 409.7,111.4 410.5,110.9 411.3,110.4 412.0,109.9 412.8,109.5 413.6,109.0 414.4,108.6 415.1,108.1 415.9,107.7 416.7,107.2 417.4,106.8 418.2,106.3 419.0,105.9 419.8,105.5 420.5,105.0 421.3,104.6 422.1,104.2 422.8,103.8 423.6,103.4 424.4,102.9 425.2,102.5 425.9,102.1 426.7,101.7 427.5,101.3 428.2,100.9 429.0,100.5 429.8,100.1 430.6,99.6 431.3,99.2 432.1,98.8 432.9,98.4 433.6,98.0 434.4,97.6 435.2,97.2 436.0,96.8 436.7,96.3 437.5,95.9 438.3,95.5 439.0,95.1 439.8,94.7 440.6,94.2 441.4,93.8 442.1,93.4 442.9,93.0 443.7,92.6 444.4,92.1 445.2,91.7 446.0,91.3 446.8,90.9 447.5,90.5 448.3,90.1 449.1,89.6 449.8,89.2 450.6,88.8 451.4,88.4 452.2,88.0 452.9,87.6 453.7,87.2 454.5,86.8 455.2,86.4 456.0,85.9 456.8,85.5 457.6,85.1 458.3,84.7 459.1,84.3 459.9,83.9 460.6,83.5 461.4,83.1 462.2,82.7 463.0,82.3 463.7,81.9 464.5,81.5 465.3,81.2 466.0,80.8 466.8,80.4 467.6,80.0 468.4,79.6 469.1,79.2 469.9,78.8 470.7,78.4 471.4,78.0 472.2,77.6 473.0,77.2 473.8,76.8 474.5,76.4 475.3,75.9 476.1,75.5 476.8,75.1 477.6,74.7 478.4,74.3 479.2,73.9 479.9,73.5 480.7,73.1 481.5,72.7 482.2,72.3 483.0,71.9 483.8,71.5 484.6,71.1 485.3,70.7 486.1,70.3 486.9,69.9 487.6,69.5 488.4,69.1 489.2,68.7 490.0,68.3 490.7,67.9 491.5,67.5 492.3,67.1 493.0,66.7 493.8,66.4 494.6,66.0 495.4,65.6 496.1,65.2 496.9,64.8 497.7,64.5 498.4,64.1 499.2,63.7 500.0,63.4 500.8,63.0 501.5,62.6 502.3,62.3 503.1,61.9 503.8,61.6 504.6,61.2 505.4,60.9 506.2,60.5 506.9,60.2 507.7,59.8 508.5,59.5 509.2,59.2 510.0,58.9 510.8,58.5 511.6,58.2 512.3,57.9 513.1,57.6 513.9,57.3 514.6,57.0 515.4,56.7 516.2,56.4 517.0,56.1 517.7,55.8 518.5,55.6 519.3,55.3 520.0,55.0 520.8,54.7 521.6,54.5 522.4,54.2 523.1,53.9 523.9,53.7 524.7,53.4 525.4,53.2 526.2,52.9 527.0,52.7 527.8,52.4 528.5,52.2 529.3,51.9 530.1,51.7 530.8,51.4 531.6,51.2 532.4,51.0 533.2,50.7 533.9,50.5 534.7,50.2 535.5,50.0 536.2,49.8 537.0,49.6 537.8,49.3 538.6,49.1 539.3,48.9 540.1,48.7 540.9,48.4 541.6,48.2 542.4,48.0 543.2,47.8 544.0,47.6 544.7,47.4 545.5,47.1 546.3,46.9 547.0,46.7 547.8,46.5 548.6,46.3 549.4,46.1 550.1,45.9 550.9,45.7 551.7,45.5 552.4,45.3 553.2,45.1 554.0,44.9 554.8,44.7 555.5,44.5 556.3,44.3 557.1,44.1 557.8,44.0 558.6,43.8 559.4,43.6 560.2,43.4 560.9,43.2 561.7,43.0 562.5,42.8 563.2,42.7 564.0,42.5 564.8,42.3 565.6,42.1 566.3,42.0 567.1,41.8 567.9,41.6 568.6,41.4 569.4,41.3 570.2,41.1 571.0,40.9 571.7,40.8 572.5,40.6 573.3,40.4 574.0,40.3 574.8,40.1 575.6,39.9 576.4,39.8 577.1,39.6 577.9,39.4 578.7,39.3 579.4,39.1 580.2,39.0 581.0,38.8 581.8,38.6 582.5,38.5 583.3,38.3 584.1,38.1 584.8,38.0 585.6,37.8 586.4,37.7 587.2,37.5 587.9,37.3 588.7,37.2 589.5,37.0 590.2,36.9 591.0,36.7 591.8,36.6 592.6,36.4 593.3,36.3 594.1,36.1 594.9,36.0 595.6,35.8 596.4,35.7 597.2,35.5 598.0,35.4 598.7,35.2 599.5,35.1 600.3,34.9 601.0,34.8 601.8,34.7 602.6,34.5 603.4,34.4 604.1,34.2 604.9,34.1 605.7,34.0 606.4,33.8 607.2,33.7 608.0,33.6 608.8,33.5 609.5,33.3 610.3,33.2 611.1,33.1 611.8,33.0 612.6,32.9 613.4,32.7 614.2,32.6 614.9,32.5 615.7,32.4 616.5,32.3 617.2,32.2 618.0,32.1 618.8,32.0 619.6,31.9 620.3,31.8 621.1,31.7 621.9,31.6 622.6,31.5 623.4,31.4 624.2,31.3 625.0,31.2 625.7,31.2 626.5,31.1 627.3,31.0 628.0,30.9 628.8,30.9 629.6,30.8 630.4,30.7 631.1,30.6 631.9,30.6 632.7,30.5 633.4,30.4 634.2,30.4 635.0,30.3 635.8,30.2 636.5,30.1 637.3,30.1 638.1,30.0 638.8,29.9 639.6,29.9 640.4,29.8 641.2,29.7 641.9,29.7 642.7,29.6 643.5,29.6 644.2,29.5 645.0,29.5 645.8,29.4 646.6,29.3 647.3,29.3 648.1,29.2 648.9,29.2 649.6,29.1 650.4,29.1 651.2,29.1 652.0,29.0 652.7,29.0 653.5,28.9 654.3,28.9 655.0,28.9 655.8,28.8 656.6,28.8 657.4,28.8 658.1,28.8 658.9,28.7 659.7,28.7 660.4,28.7 661.2,28.7 662.0,28.7 662.8,28.6 663.5,28.6 664.3,28.6 665.1,28.6 665.8,28.6 666.6,28.6 667.4,28.5 668.2,28.5 668.9,28.5 669.7,28.5 670.5,28.5 671.2,28.5 672.0,28.5 672.8,28.5 673.6,28.4 674.3,28.4 675.1,28.4 675.9,28.4 676.6,28.4 677.4,28.4 678.2,28.4 679.0,28.4 679.7,28.4 680.5,28.4" fill="none" stroke="none" marker-start="url(#mE)" marker-mid="url(#mE)" marker-end="url(#mE)"/>
<polyline points="140.5,484.3 140.5,477.4 140.5,473.3 140.5,469.2 141.9,466.5 141.9,463.7 141.9,461.0 141.9,458.3 141.9,456.9 141.9,455.5 141.9,452.8 141.9,451.4 143.2,450.0 143.2,448.7 143.2,447.3 143.2,445.9 143.2,444.6 143.2,443.2 143.2,441.8 143.2,440.4 144.6,439.1 144.6,437.7 144.6,436.3 144.6,435.0 144.6,433.6 144.6,432.2 146.0,430.8 146.0,429.5 146.0,428.1 146.0,426.7 146.0,425.4 147.4,424.0 147.4,422.6 147.4,421.3 147.4,419.9 148.7,418.5 148.7,417.1 148.7,415.8 148.7,414.4 150.1,413.0 150.1,411.7 150.1,410.3 150.1,408.9 151.5,408.9 151.5,407.5 151.5,406.2 151.5,404.8 152.8,403.4 152.8,402.1 152.8,400.7 152.8,399.3 154.2,399.3 154.2,398.0 154.2,396.6 154.2,395.2 155.6,395.2 155.6,393.8 155.6,392.5 155.6,391.1 156.9,391.1 156.9,389.7 156.9,388.4 156.9,387.0 158.3,385.6 158.3,384.2 158.3,382.9 159.7,382.9 159.7,381.5 159.7,380.1 159.7,378.8 161.1,378.8 161.1,377.4 161.1,376.0 161.1,374.7 162.4,374.7 162.4,373.3 162.4,371.9 163.8,371.9 163.8,370.5 163.8,369.2 165.2,367.8 165.2,366.4 165.2,365.1 166.5,365.1 166.5,363.7 166.5,362.3 167.9,360.9 167.9,359.6 167.9,358.2 169.3,358.2 169.3,356.8 169.3,355.5 170.7,355.5 170.7,354.1 170.7,352.7 172.0,352.7 172.0,351.4 172.0,350.0 173.4,350.0 173.4,348.6 173.4,347.2 173.4,345.9 174.8,345.9 174.8,344.5 174.8,343.1 176.1,343.1 176.1,341.8 176.1,340.4 177.5,340.4 177.5,339.0 177.5,337.6 178.9,337.6 178.9,336.3 178.9,334.9 180.2,334.9 180.2,333.5 180.2,332.2 181.6,332.2 181.6,330.8 181.6,329.4 183.0,329.4 183.0,328.1 183.0,326.7 184.4,326.7 184.4,325.3 184.4,323.9 185.7,323.9 185.7,322.6 185.7,321.2 187.1,321.2 187.1,319.8 188.5,318.5 188.5,317.1 189.8,317.1 189.8,315.7 189.8,314.3 191.2,314.3 191.2,313.0 191.2,311.6 192.6,311.6 192.6,310.2 192.6,308.9 194.0,308.9 194.0,307.5 195.3,306.1 195.3,304.8 196.7,304.8 196.7,303.4 196.7,302.0 198.1,302.0 198.1,300.6 198.1,299.3 199.4,299.3 199.4,297.9 199.4,296.5 200.8,296.5 200.8,295.2 202.2,295.2 202.2,293.8 202.2,292.4 203.5,292.4 203.5,291.0 203.5,289.7 204.9,289.7 204.9,288.3 206.3,286.9 206.3,285.6 207.7,285.6 207.7,284.2 207.7,282.8 209.0,282.8 209.0,281.5 209.0,280.1 210.4,280.1 210.4,278.7 211.8,277.3 211.8,276.0 213.1,276.0 213.1,274.6 213.1,273.2 214.5,273.2 214.5,271.9 215.9,271.9 215.9,270.5 215.9,269.1 217.3,269.1 217.3,267.7 218.6,266.4 218.6,265.0 220.0,265.0 220.0,263.6 220.0,262.3 221.4,262.3 221.4,260.9 222.7,260.9 222.7,259.5 222.7,258.2 224.1,258.2 224.1,256.8 225.5,256.8 225.5,255.4 225.5,254.0 226.8,254.0 226.8,252.7 228.2,252.7 228.2,251.3 228.2,249.9 229.6,249.9 229.6,248.6 231.0,248.6 231.0,247.2 231.0,245.8 232.3,245.8 232.3,244.4 233.7,244.4 233.7,243.1 235.1,241.7 235.1,240.3 236.4,240.3 236.4,239.0 237.8,239.0 237.8,237.6 237.8,236.2 239.2,236.2 239.2,234.9 240.6,234.9 240.6,233.5 240.6,232.1 241.9,232.1 241.9,230.7 243.3,230.7 243.3,229.4 244.7,229.4 244.7,228.0 244.7,226.6 246.0,226.6 246.0,225.3 247.4,225.3 247.4,223.9 248.8,223.9 248.8,222.5 248.8,221.1 250.1,221.1 250.1,219.8 251.5,219.8 251.5,218.4 252.9,218.4 252.9,217.0 254.3,215.7 254.3,214.3 255.6,214.3 255.6,212.9 257.0,212.9 257.0,211.6 258.4,211.6 258.4,210.2 259.7,210.2 259.7,208.8 259.7,207.4 261.1,207.4 261.1,206.1 262.5,206.1 262.5,204.7 263.9,204.7 263.9,203.3 265.2,203.3 265.2,202.0 266.6,202.0 266.6,200.6 268.0,200.6 268.0,199.2 269.3,199.2 269.3,197.8 270.7,196.5 272.1,195.1 273.4,193.7 273.4,192.4 274.8,192.4 274.8,191.0 276.2,191.0 276.2,189.6 277.6,189.6 277.6,188.3 278.9,188.3 278.9,186.9 280.3,186.9 280.3,185.5 281.7,185.5 281.7,184.1 283.0,184.1 283.0,182.8 284.4,182.8 284.4,181.4 285.8,181.4 285.8,180.0 287.2,180.0 287.2,178.7 288.5,178.7 288.5,177.3 289.9,177.3 289.9,175.9 291.3,175.9 291.3,174.5 292.6,174.5 292.6,173.2 294.0,173.2 294.0,171.8 295.4,171.8 296.7,170.4 298.1,170.4 298.1,169.1 299.5,169.1 299.5,167.7 300.9,167.7 300.9,166.3 302.2,166.3 302.2,165.0 303.6,165.0 303.6,163.6 305.0,163.6 305.0,162.2 306.3,162.2 306.3,160.8 307.7,160.8 307.7,159.5 309.1,159.5 309.1,158.1 310.5,158.1 311.8,156.7 313.2,156.7 313.2,155.4 314.6,155.4 314.6,154.0 315.9,154.0 315.9,152.6 317.3,152.6 317.3,151.2 318.7,151.2 318.7,149.9 320.0,149.9 321.4,148.5 322.8,148.5 322.8,147.1 324.2,147.1 324.2,145.8 325.5,145.8 325.5,144.4 326.9,144.4 326.9,143.0 328.3,143.0 329.6,143.0 329.6,141.6 331.0,141.6 331.0,140.3 332.4,140.3 332.4,138.9 333.8,138.9 333.8,137.5 335.1,137.5 336.5,136.2 337.9,136.2 337.9,134.8 339.2,134.8 339.2,133.4 340.6,133.4 342.0,132.1 343.3,132.1 343.3,130.7 344.7,130.7 344.7,129.3 346.1,129.3 346.1,127.9 347.5,127.9 348.8,127.9 348.8,126.6 350.2,126.6 350.2,125.2 351.6,125.2 351.6,123.8 352.9,123.8 354.3,123.8 354.3,122.5 355.7,122.5 355.7,121.1 357.1,121.1 358.4,119.7 359.8,119.7 359.8,118.3 361.2,118.3 361.2,117.0 362.5,117.0 363.9,117.0 363.9,115.6 365.3,115.6 365.3,114.2 366.6,114.2 366.6,112.9 368.0,112.9 369.4,112.9 369.4,111.5 370.8,111.5 370.8,110.1 372.1,110.1 373.5,110.1 373.5,108.8 374.9,108.8 374.9,107.4 376.2,107.4 377.6,106.0 379.0,106.0 379.0,104.6 380.4,104.6 380.4,103.3 381.7,103.3 383.1,103.3 383.1,101.9 384.5,101.9 384.5,100.5 385.8,100.5 387.2,100.5 387.2,99.2 388.6,99.2 388.6,97.8 389.9,97.8 391.3,97.8 391.3,96.4 392.7,96.4 394.1,95.0 395.4,95.0 395.4,93.7 396.8,93.7 398.2,93.7 398.2,92.3 399.5,92.3 400.9,90.9 402.3,90.9 402.3,89.6 403.7,89.6 405.0,89.6 405.0,88.2 406.4,88.2 407.8,88.2 407.8,86.8 409.1,86.8 410.5,86.8 410.5,85.5 411.9,85.5 413.2,85.5 413.2,84.1 414.6,84.1 416.0,84.1 416.0,82.7 417.4,82.7 418.7,82.7 418.7,81.3 420.1,81.3 421.5,81.3 421.5,80.0 422.8,80.0 424.2,80.0 425.6,80.0 425.6,78.6 427.0,78.6 428.3,78.6 428.3,77.2 429.7,77.2 431.1,77.2 432.4,75.9 433.8,75.9 435.2,75.9 435.2,74.5 436.5,74.5 437.9,74.5 439.3,73.1 440.7,73.1 442.0,73.1 442.0,71.7 443.4,71.7 444.8,71.7 446.1,71.7 446.1,70.4 447.5,70.4 448.9,70.4 448.9,69.0 450.3,69.0 451.6,69.0 453.0,69.0 453.0,67.6 454.4,67.6 455.7,67.6 457.1,66.3 458.5,66.3 459.8,66.3 459.8,64.9 461.2,64.9 462.6,64.9 464.0,63.5 465.3,63.5 466.7,63.5 466.7,62.2 468.1,62.2 469.4,62.2 469.4,60.8 470.8,60.8 472.2,60.8 473.6,59.4 474.9,59.4 476.3,59.4 476.3,58.0 477.7,58.0 479.0,58.0 479.0,56.7 480.4,56.7 481.8,56.7 481.8,55.3 483.2,55.3 484.5,55.3 484.5,53.9 485.9,53.9 487.3,53.9 487.3,52.6 488.6,52.6 490.0,52.6 491.4,51.2 492.7,51.2 494.1,51.2 494.1,49.8 495.5,49.8 496.9,49.8 496.9,48.4 498.2,48.4 499.6,48.4 499.6,47.1 501.0,47.1 502.3,47.1 503.7,47.1 503.7,45.7 505.1,45.7 506.5,45.7 506.5,44.3 507.8,44.3 509.2,44.3 510.6,44.3 510.6,43.0 511.9,43.0 513.3,43.0 514.7,43.0 514.7,41.6 516.0,41.6 517.4,41.6 518.8,41.6 520.2,41.6 520.2,40.2 521.5,40.2 522.9,40.2 524.3,40.2 525.6,40.2 525.6,38.9 527.0,38.9 528.4,38.9 529.8,38.9 531.1,38.9 531.1,37.5 532.5,37.5 533.9,37.5 535.2,37.5 536.6,37.5 538.0,36.1 539.3,36.1 540.7,36.1 542.1,36.1 543.5,36.1 543.5,34.7 544.8,34.7 546.2,34.7 547.6,34.7 548.9,34.7 550.3,34.7 551.7,34.7 551.7,33.4 553.1,33.4 554.4,33.4 555.8,33.4 557.2,33.4 558.5,33.4 559.9,33.4 559.9,32.0 561.3,32.0 562.6,32.0 564.0,32.0 565.4,32.0 566.8,32.0 568.1,32.0 569.5,32.0 569.5,30.6 570.9,30.6 572.2,30.6 573.6,30.6 575.0,30.6 576.4,30.6 577.7,30.6 579.1,30.6 580.5,30.6 581.8,30.6 581.8,29.3 583.2,29.3 584.6,29.3 585.9,29.3 587.3,29.3 588.7,29.3 590.1,29.3 591.4,29.3 592.8,29.3 594.2,29.3 595.5,29.3 596.9,29.3 598.3,29.3 599.7,29.3 601.0,29.3 602.4,29.3 603.8,29.3 605.1,29.3 606.5,29.3 607.9,29.3 609.2,29.3 609.2,27.9 610.6,27.9 612.0,27.9 613.4,27.9 614.7,27.9 616.1,27.9 617.5,27.9 618.8,27.9 620.2,27.9 621.6,27.9 623.0,27.9 624.3,27.9 625.7,27.9 627.1,27.9 628.4,27.9 629.8,27.9 631.2,27.9 632.5,27.9 633.9,27.9 635.3,27.9 636.7,27.9 638.0,27.9 639.4,27.9 640.8,27.9 642.1,27.9 643.5,27.9 644.9,27.9 646.3,27.9 647.6,27.9 649.0,27.9 650.4,27.9 651.7,27.9 653.1,27.9 654.5,27.9 655.8,27.9 657.2,27.9 658.6,27.9 660.0,27.9 661.3,27.9 662.7,27.9 664.1,27.9 665.4,27.9 666.8,27.9 668.2,27.9 669.6,27.9 670.9,27.9 672.3,27.9 673.7,27.9 675.0,27.9 676.4,27.9 677.8,27.9 679.1,27.9 680.5,27.9" fill="none" stroke="none" marker-start="url(#mA)" marker-mid="url(#mA)" marker-end="url(#mA)"/>
<polyline points="140.5,484.3 140.5,477.4 140.5,473.3 140.5,469.2 141.9,466.5 141.9,463.7 141.9,461.0 141.9,459.6 141.9,456.9 141.9,455.5 141.9,454.1 141.9,452.8 143.2,451.4 143.2,450.0 143.2,447.3 143.2,445.9 143.2,444.6 143.2,443.2 143.2,441.8 144.6,440.4 144.6,439.1 144.6,437.7 144.6,436.3 144.6,435.0 144.6,433.6 146.0,432.2 146.0,430.8 146.0,429.5 146.0,428.1 146.0,426.7 147.4,425.4 147.4,424.0 147.4,422.6 147.4,421.3 148.7,419.9 148.7,418.5 148.7,417.1 148.7,415.8 150.1,414.4 150.1,413.0 150.1,411.7 150.1,410.3 151.5,410.3 151.5,408.9 151.5,407.5 151.5,406.2 152.8,406.2 152.8,404.8 152.8,403.4 152.8,402.1 154.2,400.7 154.2,399.3 154.2,398.0 155.6,396.6 155.6,395.2 155.6,393.8 155.6,392.5 156.9,392.5 156.9,391.1 156.9,389.7 156.9,388.4 158.3,388.4 158.3,387.0 158.3,385.6 158.3,384.2 159.7,384.2 159.7,382.9 159.7,381.5 159.7,380.1 161.1,380.1 161.1,378.8 161.1,377.4 161.1,376.0 162.4,376.0 162.4,374.7 162.4,373.3 163.8,373.3 163.8,371.9 163.8,370.5 163.8,369.2 165.2,369.2 165.2,367.8 165.2,366.4 166.5,366.4 166.5,365.1 166.5,363.7 167.9,362.3 167.9,360.9 167.9,359.6 169.3,359.6 169.3,358.2 169.3,356.8 170.7,356.8 170.7,355.5 170.7,354.1 172.0,352.7 172.0,351.4 173.4,350.0 173.4,348.6 173.4,347.2 174.8,347.2 174.8,345.9 174.8,344.5 176.1,344.5 176.1,343.1 176.1,341.8 177.5,341.8 177.5,340.4 177.5,339.0 178.9,339.0 178.9,337.6 178.9,336.3 180.2,336.3 180.2,334.9 180.2,333.5 181.6,333.5 181.6,332.2 181.6,330.8 183.0,330.8 183.0,329.4 183.0,328.1 184.4,328.1 184.4,326.7 184.4,325.3 185.7,325.3 185.7,323.9 185.7,322.6 187.1,322.6 187.1,321.2 188.5,319.8 188.5,318.5 189.8,317.1 189.8,315.7 191.2,315.7 191.2,314.3 191.2,313.0 192.6,313.0 192.6,311.6 192.6,310.2 194.0,310.2 194.0,308.9 195.3,307.5 195.3,306.1 196.7,304.8 196.7,303.4 198.1,303.4 198.1,302.0 198.1,300.6 199.4,300.6 199.4,299.3 199.4,297.9 200.8,297.9 200.8,296.5 202.2,296.5 202.2,295.2 202.2,293.8 203.5,293.8 203.5,292.4 203.5,291.0 204.9,291.0 204.9,289.7 206.3,288.3 206.3,286.9 207.7,285.6 207.7,284.2 209.0,284.2 209.0,282.8 209.0,281.5 210.4,281.5 210.4,280.1 211.8,278.7 211.8,277.3 213.1,277.3 213.1,276.0 213.1,274.6 214.5,274.6 214.5,273.2 215.9,273.2 215.9,271.9 215.9,270.5 217.3,270.5 217.3,269.1 218.6,267.7 218.6,266.4 220.0,266.4 220.0,265.0 220.0,263.6 221.4,263.6 221.4,262.3 222.7,262.3 222.7,260.9 222.7,259.5 224.1,259.5 224.1,258.2 225.5,258.2 225.5,256.8 225.5,255.4 226.8,255.4 226.8,254.0 228.2,254.0 228.2,252.7 228.2,251.3 229.6,251.3 229.6,249.9 231.0,249.9 231.0,248.6 231.0,247.2 232.3,247.2 232.3,245.8 233.7,245.8 233.7,244.4 233.7,243.1 235.1,243.1 235.1,241.7 236.4,241.7 236.4,240.3 237.8,239.0 237.8,237.6 239.2,237.6 239.2,236.2 240.6,234.9 240.6,233.5 241.9,233.5 241.9,232.1 243.3,232.1 243.3,230.7 244.7,229.4 244.7,228.0 246.0,228.0 246.0,226.6 247.4,226.6 247.4,225.3 248.8,223.9 248.8,222.5 250.1,222.5 250.1,221.1 251.5,221.1 251.5,219.8 252.9,218.4 252.9,217.0 254.3,217.0 254.3,215.7 255.6,215.7 255.6,214.3 257.0,214.3 257.0,212.9 258.4,211.6 258.4,210.2 259.7,210.2 259.7,208.8 261.1,208.8 261.1,207.4 262.5,207.4 262.5,206.1 263.9,206.1 263.9,204.7 265.2,204.7 265.2,203.3 266.6,202.0 266.6,200.6 268.0,200.6 268.0,199.2 269.3,199.2 269.3,197.8 270.7,197.8 270.7,196.5 272.1,196.5 272.1,195.1 273.4,195.1 273.4,193.7 274.8,193.7 274.8,192.4 276.2,192.4 276.2,191.0 277.6,191.0 277.6,189.6 278.9,189.6 278.9,188.3 280.3,188.3 280.3,186.9 281.7,186.9 281.7,185.5 283.0,185.5 283.0,184.1 284.4,184.1 284.4,182.8 285.8,182.8 285.8,181.4 287.2,181.4 287.2,180.0 288.5,180.0 288.5,178.7 289.9,178.7 289.9,177.3 291.3,177.3 291.3,175.9 292.6,175.9 292.6,174.5 294.0,174.5 294.0,173.2 295.4,173.2 295.4,171.8 296.7,171.8 296.7,170.4 298.1,170.4 298.1,169.1 299.5,169.1 299.5,167.7 300.9,167.7 300.9,166.3 302.2,166.3 302.2,165.0 303.6,165.0 303.6,163.6 305.0,163.6 305.0,162.2 306.3,162.2 307.7,160.8 309.1,160.8 309.1,159.5 310.5,159.5 310.5,158.1 311.8,158.1 311.8,156.7 313.2,156.7 313.2,155.4 314.6,155.4 314.6,154.0 315.9,154.0 315.9,152.6 317.3,152.6 317.3,151.2 318.7,151.2 320.0,151.2 320.0,149.9 321.4,149.9 321.4,148.5 322.8,148.5 322.8,147.1 324.2,147.1 324.2,145.8 325.5,145.8 325.5,144.4 326.9,144.4 328.3,144.4 328.3,143.0 329.6,143.0 329.6,141.6 331.0,141.6 331.0,140.3 332.4,140.3 332.4,138.9 333.8,138.9 335.1,137.5 336.5,137.5 336.5,136.2 337.9,136.2 337.9,134.8 339.2,134.8 339.2,133.4 340.6,133.4 342.0,133.4 342.0,132.1 343.3,132.1 343.3,130.7 344.7,130.7 344.7,129.3 346.1,129.3 347.5,129.3 347.5,127.9 348.8,127.9 348.8,126.6 350.2,126.6 350.2,125.2 351.6,125.2 352.9,125.2 352.9,123.8 354.3,123.8 354.3,122.5 355.7,122.5 357.1,121.1 358.4,121.1 358.4,119.7 359.8,119.7 359.8,118.3 361.2,118.3 362.5,118.3 362.5,117.0 363.9,117.0 363.9,115.6 365.3,115.6 366.6,115.6 366.6,114.2 368.0,114.2 369.4,112.9 370.8,112.9 370.8,111.5 372.1,111.5 373.5,110.1 374.9,110.1 374.9,108.8 376.2,108.8 377.6,108.8 377.6,107.4 379.0,107.4 379.0,106.0 380.4,106.0 381.7,106.0 381.7,104.6 383.1,104.6 384.5,104.6 384.5,103.3 385.8,103.3 387.2,101.9 388.6,101.9 388.6,100.5 389.9,100.5 391.3,100.5 391.3,99.2 392.7,99.2 394.1,99.2 394.1,97.8 395.4,97.8 395.4,96.4 396.8,96.4 398.2,96.4 398.2,95.0 399.5,95.0 400.9,95.0 400.9,93.7 402.3,93.7 403.7,93.7 403.7,92.3 405.0,92.3 406.4,92.3 406.4,90.9 407.8,90.9 409.1,89.6 410.5,89.6 411.9,88.2 413.2,88.2 413.2,86.8 414.6,86.8 416.0,86.8 416.0,85.5 417.4,85.5 418.7,85.5 418.7,84.1 420.1,84.1 421.5,84.1 421.5,82.7 422.8,82.7 424.2,82.7 424.2,81.3 425.6,81.3 427.0,81.3 427.0,80.0 428.3,80.0 429.7,80.0 431.1,80.0 431.1,78.6 432.4,78.6 433.8,78.6 433.8,77.2 435.2,77.2 436.5,77.2 436.5,75.9 437.9,75.9 439.3,75.9 439.3,74.5 440.7,74.5 442.0,74.5 443.4,74.5 443.4,73.1 444.8,73.1 446.1,73.1 446.1,71.7 447.5,71.7 448.9,71.7 450.3,71.7 450.3,70.4 451.6,70.4 453.0,70.4 454.4,69.0 455.7,69.0 457.1,69.0 457.1,67.6 458.5,67.6 459.8,67.6 461.2,67.6 461.2,66.3 462.6,66.3 464.0,66.3 464.0,64.9 465.3,64.9 466.7,64.9 466.7,63.5 468.1,63.5 469.4,63.5 470.8,63.5 470.8,62.2 472.2,62.2 473.6,62.2 473.6,60.8 474.9,60.8 476.3,60.8 476.3,59.4 477.7,59.4 479.0,59.4 479.0,58.0 480.4,58.0 481.8,58.0 483.2,56.7 484.5,56.7 485.9,56.7 485.9,55.3 487.3,55.3 488.6,55.3 488.6,53.9 490.0,53.9 491.4,53.9 492.7,52.6 494.1,52.6 495.5,52.6 495.5,51.2 496.9,51.2 498.2,51.2 498.2,49.8 499.6,49.8 501.0,49.8 502.3,49.8 502.3,48.4 503.7,48.4 505.1,48.4 505.1,47.1 506.5,47.1 507.8,47.1 509.2,47.1 509.2,45.7 510.6,45.7 511.9,45.7 513.3,45.7 513.3,44.3 514.7,44.3 516.0,44.3 517.4,44.3 517.4,43.0 518.8,43.0 520.2,43.0 521.5,43.0 522.9,43.0 522.9,41.6 524.3,41.6 525.6,41.6 527.0,41.6 528.4,41.6 529.8,40.2 531.1,40.2 532.5,40.2 533.9,40.2 535.2,40.2 535.2,38.9 536.6,38.9 538.0,38.9 539.3,38.9 540.7,38.9 542.1,38.9 542.1,37.5 543.5,37.5 544.8,37.5 546.2,37.5 547.6,37.5 548.9,37.5 548.9,36.1 550.3,36.1 551.7,36.1 553.1,36.1 554.4,36.1 555.8,36.1 557.2,36.1 557.2,34.7 558.5,34.7 559.9,34.7 561.3,34.7 562.6,34.7 564.0,34.7 565.4,34.7 566.8,34.7 568.1,34.7 568.1,33.4 569.5,33.4 570.9,33.4 572.2,33.4 573.6,33.4 575.0,33.4 576.4,33.4 577.7,33.4 579.1,33.4 580.5,33.4 580.5,32.0 581.8,32.0 583.2,32.0 584.6,32.0 585.9,32.0 587.3,32.0 588.7,32.0 590.1,32.0 591.4,32.0 592.8,32.0 594.2,32.0 594.2,30.6 595.5,30.6 596.9,30.6 598.3,30.6 599.7,30.6 601.0,30.6 602.4,30.6 603.8,30.6 605.1,30.6 606.5,30.6 607.9,30.6 609.2,30.6 610.6,30.6 612.0,30.6 613.4,29.3 614.7,29.3 616.1,29.3 617.5,29.3 618.8,29.3 620.2,29.3 621.6,29.3 623.0,29.3 624.3,29.3 625.7,29.3 627.1,29.3 628.4,29.3 629.8,29.3 631.2,29.3 632.5,29.3 633.9,29.3 635.3,29.3 636.7,29.3 638.0,29.3 639.4,29.3 640.8,29.3 642.1,29.3 643.5,29.3 644.9,29.3 646.3,29.3 647.6,29.3 649.0,29.3 650.4,29.3 651.7,29.3 653.1,29.3 654.5,29.3 655.8,29.3 657.2,29.3 658.6,29.3 660.0,27.9 661.3,27.9 662.7,27.9 664.1,27.9 665.4,27.9 666.8,27.9 668.2,27.9 669.6,27.9 670.9,27.9 672.3,27.9 673.7,27.9 675.0,27.9 676.4,27.9 677.8,27.9 679.1,27.9 680.5,27.9" fill="none" stroke="none" marker-start="url(#mA)" marker-mid="url(#mA)" marker-end="url(#mA)"/>
<polyline points="140.5,484.3 140.5,477.4 140.5,473.3 140.5,469.2 141.9,466.5 141.9,463.7 141.9,461.0 141.9,459.6 141.9,456.9 141.9,455.5 141.9,454.1 141.9,452.8 143.2,451.4 143.2,450.0 143.2,447.3 143.2,445.9 143.2,444.6 143.2,443.2 143.2,441.8 144.6,440.4 144.6,439.1 144.6,437.7 144.6,436.3 144.6,435.0 144.6,433.6 146.0,432.2 146.0,430.8 146.0,429.5 146.0,428.1 146.0,426.7 147.4,425.4 147.4,424.0 147.4,422.6 147.4,421.3 148.7,419.9 148.7,418.5 148.7,417.1 148.7,415.8 150.1,414.4 150.1,413.0 150.1,411.7 150.1,410.3 151.5,410.3 151.5,408.9 151.5,407.5 151.5,406.2 152.8,406.2 152.8,404.8 152.8,403.4 152.8,402.1 154.2,400.7 154.2,399.3 154.2,398.0 155.6,396.6 155.6,395.2 155.6,393.8 155.6,392.5 156.9,392.5 156.9,391.1 156.9,389.7 156.9,388.4 158.3,388.4 158.3,387.0 158.3,385.6 158.3,384.2 159.7,384.2 159.7,382.9 159.7,381.5 159.7,380.1 161.1,380.1 161.1,378.8 161.1,377.4 161.1,376.0 162.4,376.0 162.4,374.7 162.4,373.3 163.8,373.3 163.8,371.9 163.8,370.5 163.8,369.2 165.2,369.2 165.2,367.8 165.2,366.4 166.5,366.4 166.5,365.1 166.5,363.7 167.9,362.3 167.9,360.9 167.9,359.6 169.3,359.6 169.3,358.2 169.3,356.8 170.7,356.8 170.7,355.5 170.7,354.1 172.0,352.7 172.0,351.4 173.4,350.0 173.4,348.6 173.4,347.2 174.8,347.2 174.8,345.9 174.8,344.5 176.1,344.5 176.1,343.1 176.1,341.8 177.5,341.8 177.5,340.4 177.5,339.0 178.9,339.0 178.9,337.6 178.9,336.3 180.2,336.3 180.2,334.9 180.2,333.5 181.6,333.5 181.6,332.2 181.6,330.8 183.0,330.8 183.0,329.4 183.0,328.1 184.4,328.1 184.4,326.7 184.4,325.3 185.7,325.3 185.7,323.9 185.7,322.6 187.1,322.6 187.1,321.2 188.5,321.2 188.5,319.8 188.5,318.5 189.8,318.5 189.8,317.1 189.8,315.7 191.2,315.7 191.2,314.3 192.6,313.0 192.6,311.6 194.0,310.2 194.0,308.9 195.3,308.9 195.3,307.5 195.3,306.1 196.7,306.1 196.7,304.8 198.1,304.8 198.1,303.4 198.1,302.0 199.4,302.0 199.4,300.6 199.4,299.3 200.8,299.3 200.8,297.9 202.2,297.9 202.2,296.5 202.2,295.2 203.5,295.2 203.5,293.8 204.9,292.4 204.9,291.0 206.3,291.0 206.3,289.7 207.7,288.3 207.7,286.9 209.0,286.9 209.0,285.6 210.4,284.2 210.4,282.8 211.8,282.8 211.8,281.5 213.1,280.1 213.1,278.7 214.5,278.7 214.5,277.3 215.9,277.3 215.9,276.0 215.9,274.6 217.3,274.6 217.3,273.2 218.6,273.2 218.6,271.9 218.6,270.5 220.0,270.5 220.0,269.1 221.4,269.1 221.4,267.7 222.7,266.4 222.7,265.0 224.1,265.0 224.1,263.6 225.5,263.6 225.5,262.3 226.8,260.9 226.8,259.5 228.2,259.5 228.2,258.2 229.6,258.2 229.6,256.8 231.0,255.4 231.0,254.0 232.3,254.0 232.3,252.7 233.7,252.7 233.7,251.3 235.1,251.3 235.1,249.9 235.1,248.6 236.4,248.6 236.4,247.2 237.8,247.2 237.8,245.8 239.2,245.8 239.2,244.4 240.6,244.4 240.6,243.1 241.9,241.7 241.9,240.3 243.3,240.3 243.3,239.0 244.7,239.0 244.7,237.6 246.0,237.6 246.0,236.2 247.4,236.2 247.4,234.9 248.8,233.5 248.8,232.1 250.1,232.1 250.1,230.7 251.5,230.7 251.5,229.4 252.9,229.4 252.9,228.0 254.3,228.0 254.3,226.6 255.6,226.6 255.6,225.3 257.0,225.3 257.0,223.9 258.4,222.5 259.7,221.1 259.7,219.8 261.1,219.8 261.1,218.4 262.5,218.4 262.5,217.0 263.9,217.0 263.9,215.7 265.2,215.7 265.2,214.3 266.6,214.3 266.6,212.9 268.0,212.9 268.0,211.6 269.3,211.6 269.3,210.2 270.7,210.2 270.7,208.8 272.1,208.8 272.1,207.4 273.4,207.4 273.4,206.1 274.8,206.1 274.8,204.7 276.2,204.7 276.2,203.3 277.6,203.3 277.6,202.0 278.9,202.0 278.9,200.6 280.3,200.6 280.3,199.2 281.7,199.2 281.7,197.8 283.0,197.8 283.0,196.5 284.4,196.5 284.4,195.1 285.8,195.1 285.8,193.7 287.2,193.7 287.2,192.4 288.5,192.4 288.5,191.0 289.9,191.0 289.9,189.6 291.3,189.6 291.3,188.3 292.6,188.3 292.6,186.9 294.0,186.9 294.0,185.5 295.4,185.5 296.7,184.1 298.1,184.1 298.1,182.8 299.5,182.8 299.5,181.4 300.9,181.4 300.9,180.0 302.2,180.0 302.2,178.7 303.6,178.7 303.6,177.3 305.0,177.3 305.0,175.9 306.3,175.9 307.7,174.5 309.1,174.5 309.1,173.2 310.5,173.2 310.5,171.8 311.8,171.8 311.8,170.4 313.2,170.4 313.2,169.1 314.6,169.1 315.9,167.7 317.3,167.7 317.3,166.3 318.7,166.3 318.7,165.0 320.0,165.0 320.0,163.6 321.4,163.6 322.8,163.6 322.8,162.2 324.2,162.2 324.2,160.8 325.5,160.8 325.5,159.5 326.9,159.5 328.3,158.1 329.6,158.1 329.6,156.7 331.0,156.7 331.0,155.4 332.4,155.4 333.8,155.4 333.8,154.0 335.1,154.0 335.1,152.6 336.5,152.6 336.5,151.2 337.9,151.2 339.2,151.2 339.2,149.9 340.6,149.9 340.6,148.5 342.0,148.5 343.3,148.5 343.3,147.1 344.7,147.1 344.7,145.8 346.1,145.8 347.5,145.8 347.5,144.4 348.8,144.4 348.8,143.0 350.2,143.0 351.6,143.0 351.6,141.6 352.9,141.6 352.9,140.3 354.3,140.3 355.7,140.3 355.7,138.9 357.1,138.9 357.1,137.5 358.4,137.5 359.8,137.5 359.8,136.2 361.2,136.2 361.2,134.8 362.5,134.8 363.9,134.8 363.9,133.4 365.3,133.4 365.3,132.1 366.6,132.1 368.0,132.1 368.0,130.7 369.4,130.7 369.4,129.3 370.8,129.3 372.1,129.3 372.1,127.9 373.5,127.9 374.9,126.6 376.2,126.6 376.2,125.2 377.6,125.2 379.0,125.2 379.0,123.8 380.4,123.8 380.4,122.5 381.7,122.5 383.1,122.5 383.1,121.1 384.5,121.1 385.8,121.1 385.8,119.7 387.2,119.7 387.2,118.3 388.6,118.3 389.9,118.3 389.9,117.0 391.3,117.0 392.7,117.0 392.7,115.6 394.1,115.6 394.1,114.2 395.4,114.2 396.8,114.2 396.8,112.9 398.2,112.9 399.5,112.9 399.5,111.5 400.9,111.5 402.3,111.5 402.3,110.1 403.7,110.1 405.0,108.8 406.4,108.8 406.4,107.4 407.8,107.4 409.1,107.4 409.1,106.0 410.5,106.0 411.9,106.0 411.9,104.6 413.2,104.6 413.2,103.3 414.6,103.3 416.0,103.3 416.0,101.9 417.4,101.9 418.7,101.9 418.7,100.5 420.1,100.5 420.1,99.2 421.5,99.2 422.8,99.2 422.8,97.8 424.2,97.8 424.2,96.4 425.6,96.4 427.0,96.4 427.0,95.0 428.3,95.0 429.7,95.0 429.7,93.7 431.1,93.7 431.1,92.3 432.4,92.3 433.8,92.3 433.8,90.9 435.2,90.9 436.5,90.9 436.5,89.6 437.9,89.6 437.9,88.2 439.3,88.2 440.7,88.2 440.7,86.8 442.0,86.8 443.4,86.8 443.4,85.5 444.8,85.5 446.1,85.5 446.1,84.1 447.5,84.1 448.9,84.1 448.9,82.7 450.3,82.7 451.6,82.7 451.6,81.3 453.0,81.3 454.4,81.3 454.4,80.0 455.7,80.0 457.1,80.0 457.1,78.6 458.5,78.6 459.8,78.6 459.8,77.2 461.2,77.2 462.6,77.2 462.6,75.9 464.0,75.9 465.3,75.9 465.3,74.5 466.7,74.5 468.1,74.5 468.1,73.1 469.4,73.1 470.8,73.1 470.8,71.7 472.2,71.7 473.6,71.7 473.6,70.4 474.9,70.4 476.3,70.4 476.3,69.0 477.7,69.0 479.0,69.0 479.0,67.6 480.4,67.6 481.8,67.6 481.8,66.3 483.2,66.3 484.5,66.3 485.9,64.9 487.3,64.9 488.6,64.9 488.6,63.5 490.0,63.5 491.4,63.5 491.4,62.2 492.7,62.2 494.1,62.2 494.1,60.8 495.5,60.8 496.9,60.8 496.9,59.4 498.2,59.4 499.6,59.4 501.0,58.0 502.3,58.0 503.7,58.0 503.7,56.7 505.1,56.7 506.5,56.7 506.5,55.3 507.8,55.3 509.2,55.3 509.2,53.9 510.6,53.9 511.9,53.9 513.3,53.9 513.3,52.6 514.7,52.6 516.0,52.6 516.0,51.2 517.4,51.2 518.8,51.2 520.2,51.2 520.2,49.8 521.5,49.8 522.9,49.8 522.9,48.4 524.3,48.4 525.6,48.4 527.0,48.4 527.0,47.1 528.4,47.1 529.8,47.1 531.1,47.1 531.1,45.7 532.5,45.7 533.9,45.7 535.2,45.7 535.2,44.3 536.6,44.3 538.0,44.3 539.3,44.3 539.3,43.0 540.7,43.0 542.1,43.0 543.5,43.0 543.5,41.6 544.8,41.6 546.2,41.6 547.6,41.6 547.6,40.2 548.9,40.2 550.3,40.2 551.7,40.2 553.1,40.2 553.1,38.9 554.4,38.9 555.8,38.9 557.2,38.9 558.5,37.5 559.9,37.5 561.3,37.5 562.6,37.5 562.6,36.1 564.0,36.1 565.4,36.1 566.8,36.1 568.1,36.1 569.5,36.1 569.5,34.7 570.9,34.7 572.2,34.7 573.6,34.7 575.0,34.7 576.4,34.7 577.7,34.7 579.1,34.7 579.1,33.4 580.5,33.4 581.8,33.4 583.2,33.4 584.6,33.4 585.9,33.4 587.3,33.4 588.7,33.4 588.7,32.0 590.1,32.0 591.4,32.0 592.8,32.0 594.2,32.0 595.5,32.0 596.9,32.0 598.3,32.0 599.7,32.0 601.0,32.0 601.0,30.6 602.4,30.6 603.8,30.6 605.1,30.6 606.5,30.6 607.9,30.6 609.2,30.6 610.6,30.6 612.0,30.6 613.4,30.6 614.7,30.6 616.1,30.6 617.5,30.6 618.8,29.3 620.2,29.3 621.6,29.3 623.0,29.3 624.3,29.3 625.7,29.3 627.1,29.3 628.4,29.3 629.8,29.3 631.2,29.3 632.5,29.3 633.9,29.3 635.3,29.3 636.7,29.3 638.0,29.3 639.4,29.3 640.8,29.3 642.1,29.3 643.5,29.3 644.9,29.3 646.3,29.3 647.6,29.3 649.0,29.3 650.4,29.3 651.7,29.3 653.1,29.3 654.5,29.3 655.8,29.3 657.2,29.3 658.6,29.3 660.0,29.3 661.3,29.3 661.3,27.9 662.7,27.9 664.1,27.9 665.4,27.9 666.8,27.9 668.2,27.9 669.6,27.9 670.9,27.9 672.3,27.9 673.7,27.9 675.0,27.9 676.4,27.9 677.8,27.9 679.1,27.9 680.5,27.9" fill="none" stroke="none" marker-start="url(#mC)" marker-mid="url(#mC)" marker-end="url(#mC)"/>
<polyline points="140.5,484.3 143.2,473.3 147.4,461.0 150.1,445.9 154.2,432.2 156.9,421.3 161.1,411.7 163.8,402.1 166.5,392.5 170.7,382.9 173.4,374.7 177.5,365.1 180.2,354.1 183.0,343.1 187.1,336.3 189.8,330.8 194.0,323.9 196.7,318.5 200.8,314.3 203.5,308.9 206.3,303.4 210.4,297.9 213.1,292.4 217.3,286.9 220.0,281.5 222.7,276.0 226.8,271.9 229.6,267.7 233.7,262.3 236.4,256.8 240.6,251.3 243.3,245.8 246.0,240.3 250.1,233.5 252.9,226.6 257.0,221.1 259.7,214.3 262.5,208.8 266.6,204.7 269.3,199.2 273.4,195.1 276.2,191.0 280.3,188.3 283.0,184.1 285.8,180.0 289.9,177.3 292.6,173.2 296.7,170.4 299.5,166.3 302.2,163.6 306.3,159.5 309.1,156.7 313.2,154.0 315.9,151.2 320.0,147.1 322.8,144.4 325.5,141.6 329.6,138.9 332.4,136.2 336.5,133.4 339.2,130.7 342.0,127.9 346.1,125.2 348.8,122.5 352.9,119.7 355.7,117.0 359.8,114.2 362.5,111.5 365.3,108.8 369.4,106.0 372.1,103.3 376.2,100.5 379.0,97.8 381.7,95.0 385.8,92.3 388.6,89.6 392.7,86.8 395.4,85.5 399.5,82.7 402.3,80.0 405.0,78.6 409.1,77.2 411.9,74.5 416.0,73.1 418.7,71.7 421.5,70.4 425.6,69.0 428.3,67.6 432.4,66.3 435.2,64.9 439.3,63.5 442.0,62.2 444.8,60.8 448.9,59.4 451.6,59.4 455.7,58.0 458.5,56.7 461.2,55.3 465.3,53.9 468.1,52.6 472.2,51.2 474.9,49.8 479.0,48.4 481.8,47.1 484.5,45.7 488.6,44.3 491.4,43.0 495.5,41.6 498.2,40.2 501.0,38.9 505.1,37.5 507.8,36.1 511.9,34.7 514.7,33.4 518.8,32.0 521.5,30.6 524.3,29.3 528.4,29.3 531.1,27.9 535.2,27.9 538.0,27.9 540.7,27.9 544.8,27.9 547.6,27.9 551.7,27.9 554.4,27.9 558.5,27.9 561.3,27.9 564.0,27.9 568.1,27.9 570.9,27.9 575.0,27.9 577.7,27.9 580.5,27.9 584.6,27.9 587.3,27.9 591.4,27.9 594.2,27.9 598.3,27.9 601.0,27.9 603.8,27.9 607.9,27.9 610.6,27.9 614.7,27.9 617.5,27.9 620.2,27.9 624.3,27.9 627.1,27.9 631.2,27.9 633.9,27.9 638.0,27.9 640.8,27.9 643.5,27.9 647.6,27.9 650.4,27.9 654.5,27.9 657.2,27.9 660.0,27.9 664.1,27.9 666.8,27.9 670.9,27.9 673.7,27.9 677.8,27.9 680.5,27.9" fill="none" stroke="none" marker-start="url(#mR)" marker-mid="url(#mR)" marker-end="url(#mR)"/>
<polyline points="140.5,484.3 141.9,480.2 143.2,476.1 143.2,473.3 144.6,469.2 146.0,465.1 147.4,461.0 147.4,456.9 148.7,454.1 150.1,450.0 151.5,447.3 152.8,443.2 154.2,440.4 155.6,436.3 155.6,433.6 156.9,430.8 158.3,426.7 159.7,424.0 161.1,421.3 162.4,418.5 163.8,415.8 165.2,413.0 165.2,410.3 166.5,407.5 167.9,404.8 169.3,402.1 170.7,399.3 172.0,396.6 173.4,393.8 174.8,391.1 176.1,388.4 177.5,385.6 178.9,382.9 180.2,380.1 183.0,377.4 184.4,374.7 185.7,371.9 187.1,367.8 188.5,365.1 189.8,362.3 192.6,359.6 194.0,356.8 195.3,354.1 196.7,351.4 198.1,348.6 200.8,345.9 202.2,343.1 203.5,340.4 204.9,337.6 207.7,334.9 209.0,332.2 210.4,329.4 211.8,326.7 214.5,323.9 215.9,321.2 217.3,318.5 220.0,315.7 221.4,313.0 222.7,310.2 225.5,307.5 226.8,304.8 228.2,302.0" fill="none" stroke="none" marker-start="url(#mT2)" marker-mid="url(#mT2)" marker-end="url(#mT2)"/>
<polyline points="231.0,299.3 232.3,296.5 235.1,293.8 236.4,291.0 239.2,288.3 241.9,284.2 243.3,282.8 246.0,280.1 247.4,277.3 250.1,274.6 251.5,271.9 254.3,269.1 255.6,266.4 258.4,263.6 259.7,260.9 262.5,259.5 263.9,256.8 266.6,254.0 268.0,251.3 270.7,249.9 272.1,247.2 274.8,244.4 277.6,241.7 278.9,240.3 281.7,237.6 283.0,234.9 285.8,233.5 287.2,230.7 289.9,228.0 291.3,226.6 294.0,223.9 295.4,222.5 298.1,219.8 299.5,218.4 302.2,215.7 303.6,212.9 306.3,211.6 307.7,208.8 310.5,207.4 313.2,204.7 314.6,203.3 317.3,200.6 318.7,197.8 321.4,196.5 322.8,193.7 325.5,192.4 326.9,189.7 329.6,187.5 331.0,185.4 333.8,183.3 335.1,181.2 337.9,179.2 339.2,177.2 342.0,175.3 343.3,173.4 346.1,171.5 348.8,169.7 350.2,168.0 352.9,166.3 354.3,164.6 357.1,163.0 358.4,161.4 361.2,159.9 362.5,158.4 365.3,157.0 366.6,155.6 369.4,154.2 370.8,152.9 373.5,151.5 376.2,150.2 377.6,148.9 380.4,147.6 381.7,146.3 384.5,145.0 385.8,143.7 388.6,142.4 391.3,141.2 392.7,139.9 395.4,138.6 396.8,137.3 399.5,136.0 400.9,134.7 403.7,133.4 405.0,132.1 407.8,130.8 410.5,129.4 411.9,128.1 414.6,126.7 416.0,125.3 418.7,123.9 420.1,122.6 422.8,121.2 424.2,119.9 427.0,118.7 428.3,117.5 431.1,116.3 432.4,115.2 435.2,114.1 436.5,113.0 439.3,111.9 442.0,110.8 443.4,109.7 446.1,108.7 447.5,107.6 450.3,106.6 451.6,105.5 454.4,104.4 455.7,103.4 458.5,102.3 459.8,101.2 462.6,100.1 465.3,99.0 466.7,97.9 469.4,96.8 470.8,95.6 473.6,94.4 474.9,93.2 477.7,92.0 479.0,90.7 481.8,89.4 483.2,88.2 485.9,86.9 488.6,85.6 490.0,84.4 492.7,83.1 494.1,81.8 496.9,80.7 498.2,79.5 499.6,78.7 501.0,77.9 502.3,77.1 503.7,76.4 506.5,75.6 507.8,74.9 509.2,74.1 510.6,73.4 511.9,72.7 513.3,72.0 514.7,71.3 516.0,70.6 517.4,69.9 518.8,69.3 520.2,68.7 521.5,68.0 522.9,67.4 524.3,66.8 525.6,66.2 528.4,65.6 529.8,65.1 531.1,64.5 532.5,63.9 533.9,63.4 535.2,62.9 536.6,62.4 538.0,61.9 539.3,61.4 540.7,60.9 542.1,60.5 543.5,60.0 544.8,59.5 546.2,59.0 547.6,58.5 548.9,58.1 550.3,57.6 551.7,57.1 553.1,56.7 554.4,56.2 555.8,55.7 558.5,55.3 559.9,54.8 561.3,54.3 562.6,53.9 564.0,53.4 565.4,52.9 566.8,52.5 568.1,52.0 569.5,51.5 570.9,51.0 572.2,50.5 573.6,50.0 575.0,49.5 576.4,49.1 577.7,48.6 579.1,48.0 580.5,47.5 581.8,47.0 583.2,46.5 584.6,46.0 585.9,45.5 587.3,45.0 588.7,44.6 590.1,44.1 591.4,43.6 592.8,43.1 594.2,42.6 595.5,42.2 596.9,41.7 599.7,41.3 601.0,40.9 602.4,40.4 603.8,40.0 605.1,39.6 606.5,39.2 607.9,38.7 609.2,38.3 610.6,37.9 612.0,37.5 613.4,37.1 614.7,36.7 616.1,36.3 617.5,35.9 618.8,35.6 620.2,35.2 621.6,34.9 623.0,34.6 625.7,34.3 627.1,34.0 628.4,33.7 629.8,33.4 631.2,33.2 632.5,32.9 633.9,32.7 635.3,32.4 636.7,32.1 638.0,31.9 639.4,31.7 640.8,31.4 642.1,31.2 643.5,31.0 646.3,30.8 647.6,30.6 649.0,30.4 650.4,30.2 651.7,30.0 653.1,29.9 654.5,29.7 655.8,29.6 657.2,29.5 658.6,29.4 660.0,29.3 662.7,29.2 664.1,29.1 665.4,29.0 666.8,28.9 668.2,28.8 669.6,28.7 670.9,28.7 672.3,28.6 673.7,28.5 675.0,28.5 676.4,28.5 679.1,28.4 680.5,28.4 680.5,28.4" fill="none" stroke="none" marker-start="url(#mT)" marker-mid="url(#mT)" marker-end="url(#mT)"/>
<polyline points="140.5,484.3 140.5,477.4 140.5,473.3 140.5,469.2 141.9,466.5 141.9,463.7 141.9,462.4 141.9,459.6 141.9,458.3 141.9,456.9 141.9,455.5 141.9,454.1 143.2,452.8 143.2,451.4 143.2,450.0 143.2,448.7 143.2,447.3 143.2,445.9 143.2,444.6 143.2,443.2 144.6,441.8 144.6,440.4 144.6,439.1 144.6,437.7 144.6,436.3 144.6,435.0 146.0,433.6 146.0,432.2 146.0,430.8 146.0,429.5 146.0,428.1 147.4,426.7 147.4,425.4 147.4,424.0 147.4,422.6 148.7,421.3 148.7,419.9 148.7,418.5 148.7,417.1 148.7,415.8 150.1,415.8 150.1,414.4 150.1,413.0 150.1,411.7 151.5,410.3 151.5,408.9 151.5,407.5 151.5,406.2 152.8,406.2 152.8,404.8 152.8,403.4 152.8,402.1 154.2,400.7 154.2,399.3 154.2,398.0 155.6,396.6 155.6,395.2 155.6,393.8 155.6,392.5 156.9,392.5 156.9,391.1 156.9,389.7 156.9,388.4 158.3,387.0 158.3,385.6 158.3,384.2 159.7,384.2 159.7,382.9 159.7,381.5 159.7,380.1 161.1,380.1 161.1,378.8 161.1,377.4 161.1,376.0 162.4,376.0 162.4,374.7 162.4,373.3 163.8,373.3 163.8,371.9 163.8,370.5 163.8,369.2 165.2,369.2 165.2,367.8 165.2,366.4 166.5,366.4 166.5,365.1 166.5,363.7 167.9,362.3 167.9,360.9 167.9,359.6 169.3,359.6 169.3,358.2 169.3,356.8 170.7,356.8 170.7,355.5 170.7,354.1 172.0,352.7 172.0,351.4 173.4,350.0 173.4,348.6 173.4,347.2 174.8,347.2 174.8,345.9 174.8,344.5 176.1,344.5 176.1,343.1 176.1,341.8 177.5,341.8 177.5,340.4 177.5,339.0 178.9,339.0 178.9,337.6 178.9,336.3 180.2,336.3 180.2,334.9 180.2,333.5 181.6,333.5 181.6,332.2 181.6,330.8 183.0,330.8 183.0,329.4 183.0,328.1 184.4,328.1 184.4,326.7 184.4,325.3 185.7,325.3 185.7,323.9 185.7,322.6 187.1,322.6 187.1,321.2 188.5,321.2 188.5,319.8 188.5,318.5 189.8,318.5 189.8,317.1 189.8,315.7 191.2,315.7 191.2,314.3 192.6,313.0 192.6,311.6 194.0,311.6 194.0,310.2 194.0,308.9 195.3,308.9 195.3,307.5 195.3,306.1 196.7,306.1 196.7,304.8 198.1,304.8 198.1,303.4 198.1,302.0 199.4,302.0 199.4,300.6 200.8,299.3 200.8,297.9 202.2,297.9 202.2,296.5 202.2,295.2 203.5,295.2 203.5,293.8 204.9,293.8 204.9,292.4 204.9,291.0 206.3,291.0 206.3,289.7 207.7,289.7 207.7,288.3 207.7,286.9 209.0,286.9 209.0,285.6 210.4,285.6 210.4,284.2 210.4,282.8 211.8,282.8 211.8,281.5 213.1,281.5 213.1,280.1 213.1,278.7 214.5,278.7 214.5,277.3 215.9,277.3 215.9,276.0 217.3,274.6 217.3,273.2 218.6,273.2 218.6,271.9 220.0,271.9 220.0,270.5 220.0,269.1 221.4,269.1 221.4,267.7 222.7,267.7 222.7,266.4 224.1,266.4 224.1,265.0 224.1,263.6 225.5,263.6 225.5,262.3 226.8,262.3 226.8,260.9 228.2,260.9 228.2,259.5 228.2,258.2 229.6,258.2 229.6,256.8 231.0,256.8 231.0,255.4 232.3,255.4 232.3,254.0 233.7,254.0 233.7,252.7 233.7,251.3 235.1,251.3 235.1,249.9 236.4,249.9 236.4,248.6 237.8,248.6 237.8,247.2 239.2,245.8 239.2,244.4 240.6,244.4 240.6,243.1 241.9,243.1 241.9,241.7 243.3,241.7 243.3,240.3 244.7,240.3 244.7,239.0 246.0,239.0 246.0,237.6 246.0,236.2 247.4,236.2 247.4,234.9 248.8,234.9 248.8,233.5 250.1,233.5 250.1,232.1 251.5,232.1 251.5,230.7 252.9,230.7 252.9,229.4 254.3,229.4 254.3,228.0 255.6,228.0 255.6,226.6 257.0,225.3 257.0,223.9 258.4,223.9 258.4,222.5 259.7,222.5 259.7,221.1 261.1,221.1 261.1,219.8 262.5,219.8 262.5,218.4 263.9,218.4 263.9,217.0 265.2,217.0 265.2,215.7 266.6,215.7 266.6,214.3 268.0,214.3 268.0,212.9 269.3,212.9 269.3,211.6 270.7,211.6 270.7,210.2 272.1,210.2 272.1,208.8 273.4,208.8 273.4,207.4 274.8,207.4 274.8,206.1 276.2,206.1 276.2,204.7 277.6,204.7 277.6,203.3 278.9,203.3 278.9,202.0 280.3,202.0 280.3,200.6 281.7,200.6 281.7,199.2 283.0,199.2 283.0,197.8 284.4,197.8 284.4,196.5 285.8,196.5 285.8,195.1 287.2,195.1 287.2,193.7 288.5,193.7 288.5,192.4 289.9,192.4 289.9,191.0 291.3,191.0 291.3,189.6 292.6,189.6 292.6,188.3 294.0,188.3 295.4,186.9 296.7,186.9 296.7,185.5 298.1,185.5 298.1,184.1 299.5,184.1 299.5,182.8 300.9,182.8 300.9,181.4 302.2,181.4 302.2,180.0 303.6,180.0 303.6,178.7 305.0,178.7 305.0,177.3 306.3,177.3 307.7,175.9 309.1,175.9 309.1,174.5 310.5,174.5 310.5,173.2 311.8,173.2 311.8,171.8 313.2,171.8 313.2,170.4 314.6,170.4 315.9,169.1 317.3,169.1 317.3,167.7 318.7,167.7 318.7,166.3 320.0,166.3 320.0,165.0 321.4,165.0 321.4,163.6 322.8,163.6 324.2,163.6 324.2,162.2 325.5,162.2 325.5,160.8 326.9,160.8 326.9,159.5 328.3,159.5 329.6,158.1 331.0,158.1 331.0,156.7 332.4,156.7 332.4,155.4 333.8,155.4 333.8,154.0 335.1,154.0 336.5,152.6 337.9,152.6 337.9,151.2 339.2,151.2 339.2,149.9 340.6,149.9 342.0,149.9 342.0,148.5 343.3,148.5 343.3,147.1 344.7,147.1 344.7,145.8 346.1,145.8 347.5,145.8 347.5,144.4 348.8,144.4 348.8,143.0 350.2,143.0 351.6,141.6 352.9,141.6 352.9,140.3 354.3,140.3 354.3,138.9 355.7,138.9 357.1,138.9 357.1,137.5 358.4,137.5 358.4,136.2 359.8,136.2 359.8,134.8 361.2,134.8 362.5,134.8 362.5,133.4 363.9,133.4 363.9,132.1 365.3,132.1 366.6,132.1 366.6,130.7 368.0,130.7 368.0,129.3 369.4,129.3 370.8,129.3 370.8,127.9 372.1,127.9 372.1,126.6 373.5,126.6 374.9,126.6 374.9,125.2 376.2,125.2 376.2,123.8 377.6,123.8 379.0,123.8 379.0,122.5 380.4,122.5 380.4,121.1 381.7,121.1 383.1,121.1 383.1,119.7 384.5,119.7 384.5,118.3 385.8,118.3 387.2,118.3 387.2,117.0 388.6,117.0 389.9,115.6 391.3,115.6 391.3,114.2 392.7,114.2 394.1,114.2 394.1,112.9 395.4,112.9 395.4,111.5 396.8,111.5 398.2,111.5 398.2,110.1 399.5,110.1 400.9,108.8 402.3,108.8 402.3,107.4 403.7,107.4 405.0,107.4 405.0,106.0 406.4,106.0 407.8,106.0 407.8,104.6 409.1,104.6 410.5,104.6 410.5,103.3 411.9,103.3 413.2,103.3 413.2,101.9 414.6,101.9 416.0,101.9 417.4,101.9 417.4,100.5 418.7,100.5 420.1,100.5 420.1,99.2 421.5,99.2 422.8,99.2 424.2,99.2 424.2,97.8 425.6,97.8 427.0,97.8 428.3,97.8 428.3,96.4 429.7,96.4 431.1,96.4 432.4,96.4 432.4,95.0 433.8,95.0 435.2,95.0 436.5,95.0 436.5,93.7 437.9,93.7 439.3,93.7 440.7,93.7 440.7,92.3 442.0,92.3 443.4,92.3 444.8,92.3 444.8,90.9 446.1,90.9 447.5,90.9 448.9,89.6 450.3,89.6 451.6,89.6 453.0,88.2 454.4,88.2 455.7,88.2 455.7,86.8 457.1,86.8 458.5,86.8 459.8,86.8 459.8,85.5 461.2,85.5 462.6,85.5 464.0,85.5 464.0,84.1 465.3,84.1 466.7,84.1 466.7,82.7 468.1,82.7 469.4,82.7 470.8,81.3 472.2,81.3 473.6,81.3 473.6,80.0 474.9,80.0 476.3,80.0 476.3,78.6 477.7,78.6 479.0,78.6 479.0,77.2 480.4,77.2 481.8,77.2 481.8,75.9 483.2,75.9 484.5,75.9 484.5,74.5 485.9,74.5 487.3,74.5 487.3,73.1 488.6,73.1 490.0,73.1 490.0,71.7 491.4,71.7 491.4,70.4 492.7,70.4 494.1,70.4 494.1,69.0 495.5,69.0 496.9,69.0 496.9,67.6 498.2,67.6 499.6,67.6 499.6,66.3 501.0,66.3 502.3,66.3 502.3,64.9 503.7,64.9 505.1,64.9 505.1,63.5 506.5,63.5 507.8,63.5 509.2,62.2 510.6,62.2 511.9,62.2 511.9,60.8 513.3,60.8 514.7,60.8 514.7,59.4 516.0,59.4 517.4,59.4 518.8,59.4 518.8,58.0 520.2,58.0 521.5,58.0 522.9,58.0 522.9,56.7 524.3,56.7 525.6,56.7 527.0,56.7 527.0,55.3 528.4,55.3 529.8,55.3 531.1,55.3 532.5,55.3 532.5,53.9 533.9,53.9 535.2,53.9 536.6,53.9 536.6,52.6 538.0,52.6 539.3,52.6 540.7,52.6 542.1,52.6 542.1,51.2 543.5,51.2 544.8,51.2 546.2,51.2 547.6,51.2 547.6,49.8 548.9,49.8 550.3,49.8 551.7,49.8 553.1,49.8 554.4,48.4 555.8,48.4 557.2,48.4 558.5,48.4 559.9,48.4 559.9,47.1 561.3,47.1 562.6,47.1 564.0,47.1 565.4,47.1 565.4,45.7 566.8,45.7 568.1,45.7 569.5,45.7 570.9,45.7 570.9,44.3 572.2,44.3 573.6,44.3 575.0,44.3 576.4,44.3 576.4,43.0 577.7,43.0 579.1,43.0 580.5,43.0 581.8,43.0 581.8,41.6 583.2,41.6 584.6,41.6 585.9,41.6 585.9,40.2 587.3,40.2 588.7,40.2 590.1,40.2 591.4,40.2 591.4,38.9 592.8,38.9 594.2,38.9 595.5,38.9 596.9,38.9 596.9,37.5 598.3,37.5 599.7,37.5 601.0,37.5 601.0,36.1 602.4,36.1 603.8,36.1 605.1,36.1 606.5,36.1 607.9,34.7 609.2,34.7 610.6,34.7 612.0,34.7 613.4,34.7 613.4,33.4 614.7,33.4 616.1,33.4 617.5,33.4 618.8,33.4 620.2,33.4 620.2,32.0 621.6,32.0 623.0,32.0 624.3,32.0 625.7,32.0 627.1,32.0 628.4,32.0 628.4,30.6 629.8,30.6 631.2,30.6 632.5,30.6 633.9,30.6 635.3,30.6 636.7,30.6 638.0,30.6 639.4,30.6 639.4,29.3 640.8,29.3 642.1,29.3 643.5,29.3 644.9,29.3 646.3,29.3 647.6,29.3 649.0,29.3 650.4,29.3 651.7,29.3 653.1,29.3 654.5,29.3 655.8,29.3 657.2,29.3 658.6,29.3 660.0,29.3 661.3,29.3 662.7,29.3 664.1,29.3 664.1,27.9 665.4,27.9 666.8,27.9 668.2,27.9 669.6,27.9 670.9,27.9 672.3,27.9 673.7,27.9 675.0,27.9 676.4,27.9 677.8,27.9 679.1,27.9 680.5,27.9" fill="none" stroke="none" marker-start="url(#mG)" marker-mid="url(#mG)" marker-end="url(#mG)"/>
<polyline points="140.5,484.3 140.5,476.1 140.5,470.6 140.5,466.5 141.9,463.7 141.9,461.0 141.9,459.6 141.9,456.9 141.9,455.5 141.9,452.8 141.9,451.4 141.9,450.0 143.2,448.7 143.2,447.3 143.2,445.9 143.2,444.6 143.2,443.2 143.2,440.4 143.2,439.1 144.6,437.7 144.6,436.3 144.6,435.0 144.6,433.6 144.6,432.2 144.6,430.8 146.0,429.5 146.0,428.1 146.0,426.7 146.0,425.4 146.0,424.0 147.4,422.6 147.4,421.3 147.4,419.9 147.4,418.5 148.7,418.5 148.7,417.1 148.7,415.8 148.7,414.4 148.7,413.0 150.1,413.0 150.1,411.7 150.1,410.3 150.1,408.9 150.1,407.5 151.5,407.5 151.5,406.2 151.5,404.8 151.5,403.4 152.8,403.4 152.8,402.1 152.8,400.7 152.8,399.3 152.8,398.0 154.2,398.0 154.2,396.6 154.2,395.2 154.2,393.8 155.6,393.8 155.6,392.5 155.6,391.1 155.6,389.7 156.9,389.7 156.9,388.4 156.9,387.0 156.9,385.6 158.3,384.2 158.3,382.9 158.3,381.5 159.7,381.5 159.7,380.1 159.7,378.8 159.7,377.4 161.1,377.4 161.1,376.0 161.1,374.7 162.4,373.3 162.4,371.9 162.4,370.5 163.8,370.5 163.8,369.2 163.8,367.8 165.2,366.4 165.2,365.1 165.2,363.7 166.5,363.7 166.5,362.3 166.5,360.9 167.9,360.9 167.9,359.6 167.9,358.2 167.9,356.8 169.3,356.8 169.3,355.5 169.3,354.1 170.7,354.1 170.7,352.7 170.7,351.4 172.0,351.4 172.0,350.0 172.0,348.6 173.4,348.6 173.4,347.2 173.4,345.9 174.8,344.5 174.8,343.1 176.1,341.8 176.1,340.4 177.5,339.0 177.5,337.6 177.5,336.3 178.9,336.3 178.9,334.9 178.9,333.5 180.2,333.5 180.2,332.2 181.6,330.8 181.6,329.4 183.0,328.1 183.0,326.7 184.4,326.7 184.4,325.3 184.4,323.9 185.7,323.9 185.7,322.6 185.7,321.2 187.1,321.2 187.1,319.8 188.5,318.5 188.5,317.1 189.8,315.7 189.8,314.3 191.2,314.3 191.2,313.0 191.2,311.6 192.6,311.6 192.6,310.2 194.0,308.9 194.0,307.5 195.3,307.5 195.3,306.1 195.3,304.8 196.7,304.8 196.7,303.4 198.1,303.4 198.1,302.0 198.1,300.6 199.4,300.6 199.4,299.3 199.4,297.9 200.8,297.9 200.8,296.5 202.2,296.5 202.2,295.2 202.2,293.8 203.5,293.8 203.5,292.4 204.9,291.0 204.9,289.7 206.3,289.7 206.3,288.3 207.7,286.9 207.7,285.6 209.0,285.6 209.0,284.2 210.4,284.2 210.4,282.8 210.4,281.5 211.8,281.5 211.8,280.1 213.1,280.1 213.1,278.7 213.1,277.3 214.5,277.3 214.5,276.0 215.9,276.0 215.9,274.6 217.3,273.2 217.3,271.9 218.6,271.9 218.6,270.5 220.0,270.5 220.0,269.1 220.0,267.7 221.4,267.7 221.4,266.4 222.7,266.4 222.7,265.0 224.1,265.0 224.1,263.6 224.1,262.3 225.5,262.3 225.5,260.9 226.8,260.9 226.8,259.5 228.2,259.5 228.2,258.2 228.2,256.8 229.6,256.8 229.6,255.4 231.0,255.4 231.0,254.0 232.3,254.0 232.3,252.7 233.7,252.7 233.7,251.3 235.1,249.9 235.1,248.6 236.4,248.6 236.4,247.2 237.8,247.2 237.8,245.8 239.2,245.8 239.2,244.4 240.6,243.1 241.9,241.7 241.9,240.3 243.3,240.3 243.3,239.0 244.7,239.0 244.7,237.6 246.0,237.6 246.0,236.2 247.4,236.2 247.4,234.9 248.8,234.9 248.8,233.5 250.1,233.5 250.1,232.1 251.5,230.7 251.5,229.4 252.9,229.4 252.9,228.0 254.3,228.0 254.3,226.6 255.6,226.6 255.6,225.3 257.0,225.3 257.0,223.9 258.4,223.9 258.4,222.5 259.7,222.5 259.7,221.1 261.1,221.1 261.1,219.8 262.5,219.8 262.5,218.4 263.9,218.4 263.9,217.0 265.2,217.0 265.2,215.7 266.6,215.7 266.6,214.3 268.0,214.3 268.0,212.9 269.3,212.9 269.3,211.6 270.7,211.6 270.7,210.2 272.1,210.2 272.1,208.8 273.4,208.8 273.4,207.4 274.8,207.4 274.8,206.1 276.2,204.7 277.6,204.7 277.6,203.3 278.9,203.3 278.9,202.0 280.3,202.0 280.3,200.6 281.7,200.6 281.7,199.2 283.0,199.2 283.0,197.8 284.4,197.8 284.4,196.5 285.8,196.5 285.8,195.1 287.2,195.1 287.2,193.7 288.5,193.7 288.5,192.4 289.9,192.4 289.9,191.0 291.3,191.0 291.3,189.6 292.6,189.6 292.6,188.3 294.0,188.3 294.0,186.9 295.4,186.9 295.4,185.5 296.7,185.5 296.7,184.1 298.1,184.1 298.1,182.8 299.5,182.8 299.5,181.4 300.9,181.4 302.2,180.0 303.6,178.7 305.0,178.7 305.0,177.3 306.3,177.3 306.3,175.9 307.7,175.9 307.7,174.5 309.1,174.5 309.1,173.2 310.5,173.2 310.5,171.8 311.8,171.8 313.2,170.4 314.6,170.4 314.6,169.1 315.9,169.1 315.9,167.7 317.3,167.7 317.3,166.3 318.7,166.3 320.0,165.0 321.4,165.0 321.4,163.6 322.8,163.6 322.8,162.2 324.2,162.2 324.2,160.8 325.5,160.8 326.9,160.8 326.9,159.5 328.3,159.5 328.3,158.1 329.6,158.1 329.6,156.7 331.0,156.7 332.4,156.7 332.4,155.4 333.8,155.4 333.8,154.0 335.1,154.0 336.5,152.6 337.9,152.6 337.9,151.2 339.2,151.2 340.6,149.9 342.0,149.9 342.0,148.5 343.3,148.5 344.7,147.1 346.1,147.1 346.1,145.8 347.5,145.8 348.8,144.4 350.2,144.4 350.2,143.0 351.6,143.0 352.9,141.6 354.3,141.6 354.3,140.3 355.7,140.3 357.1,140.3 357.1,138.9 358.4,138.9 358.4,137.5 359.8,137.5 361.2,137.5 361.2,136.2 362.5,136.2 362.5,134.8 363.9,134.8 365.3,134.8 365.3,133.4 366.6,133.4 368.0,132.1 369.4,132.1 369.4,130.7 370.8,130.7 372.1,130.7 372.1,129.3 373.5,129.3 373.5,127.9 374.9,127.9 376.2,127.9 376.2,126.6 377.6,126.6 379.0,125.2 380.4,125.2 380.4,123.8 381.7,123.8 383.1,123.8 383.1,122.5 384.5,122.5 385.8,121.1 387.2,121.1 387.2,119.7 388.6,119.7 389.9,119.7 389.9,118.3 391.3,118.3 391.3,117.0 392.7,117.0 394.1,117.0 394.1,115.6 395.4,115.6 396.8,114.2 398.2,114.2 398.2,112.9 399.5,112.9 400.9,112.9 400.9,111.5 402.3,111.5 403.7,110.1 405.0,110.1 405.0,108.8 406.4,108.8 407.8,108.8 407.8,107.4 409.1,107.4 410.5,107.4 410.5,106.0 411.9,106.0 413.2,106.0 413.2,104.6 414.6,104.6 416.0,104.6 417.4,103.3 418.7,103.3 420.1,103.3 420.1,101.9 421.5,101.9 422.8,101.9 422.8,100.5 424.2,100.5 425.6,100.5 427.0,100.5 427.0,99.2 428.3,99.2 429.7,99.2 431.1,97.8 432.4,97.8 433.8,97.8 433.8,96.4 435.2,96.4 436.5,96.4 437.9,96.4 437.9,95.0 439.3,95.0 440.7,95.0 442.0,95.0 442.0,93.7 443.4,93.7 444.8,93.7 446.1,92.3 447.5,92.3 448.9,92.3 448.9,90.9 450.3,90.9 451.6,90.9 453.0,90.9 453.0,89.6 454.4,89.6 455.7,89.6 457.1,88.2 458.5,88.2 459.8,88.2 459.8,86.8 461.2,86.8 462.6,86.8 462.6,85.5 464.0,85.5 465.3,85.5 466.7,85.5 466.7,84.1 468.1,84.1 469.4,84.1 469.4,82.7 470.8,82.7 472.2,82.7 472.2,81.3 473.6,81.3 474.9,81.3 474.9,80.0 476.3,80.0 477.7,80.0 477.7,78.6 479.0,78.6 480.4,78.6 480.4,77.2 481.8,77.2 483.2,75.9 484.5,75.9 484.5,74.5 485.9,74.5 487.3,74.5 487.3,73.1 488.6,73.1 490.0,73.1 490.0,71.7 491.4,71.7 492.7,71.7 492.7,70.4 494.1,70.4 495.5,70.4 495.5,69.0 496.9,69.0 498.2,67.6 499.6,67.6 501.0,66.3 502.3,66.3 502.3,64.9 503.7,64.9 505.1,64.9 506.5,63.5 507.8,63.5 509.2,63.5 509.2,62.2 510.6,62.2 511.9,62.2 511.9,60.8 513.3,60.8 514.7,60.8 514.7,59.4 516.0,59.4 517.4,59.4 518.8,59.4 518.8,58.0 520.2,58.0 521.5,58.0 522.9,58.0 522.9,56.7 524.3,56.7 525.6,56.7 527.0,56.7 527.0,55.3 528.4,55.3 529.8,55.3 531.1,55.3 532.5,55.3 532.5,53.9 533.9,53.9 535.2,53.9 536.6,53.9 536.6,52.6 538.0,52.6 539.3,52.6 540.7,52.6 542.1,52.6 542.1,51.2 543.5,51.2 544.8,51.2 546.2,51.2 547.6,51.2 547.6,49.8 548.9,49.8 550.3,49.8 551.7,49.8 553.1,49.8 553.1,48.4 554.4,48.4 555.8,48.4 557.2,48.4 558.5,48.4 559.9,48.4 559.9,47.1 561.3,47.1 562.6,47.1 564.0,47.1 565.4,47.1 565.4,45.7 566.8,45.7 568.1,45.7 569.5,45.7 570.9,45.7 570.9,44.3 572.2,44.3 573.6,44.3 575.0,44.3 576.4,44.3 576.4,43.0 577.7,43.0 579.1,43.0 580.5,43.0 581.8,43.0 581.8,41.6 583.2,41.6 584.6,41.6 585.9,41.6 585.9,40.2 587.3,40.2 588.7,40.2 590.1,40.2 591.4,40.2 591.4,38.9 592.8,38.9 594.2,38.9 595.5,38.9 596.9,38.9 596.9,37.5 598.3,37.5 599.7,37.5 601.0,37.5 601.0,36.1 602.4,36.1 603.8,36.1 605.1,36.1 606.5,36.1 607.9,34.7 609.2,34.7 610.6,34.7 612.0,34.7 613.4,34.7 613.4,33.4 614.7,33.4 616.1,33.4 617.5,33.4 618.8,33.4 620.2,33.4 620.2,32.0 621.6,32.0 623.0,32.0 624.3,32.0 625.7,32.0 627.1,32.0 628.4,32.0 628.4,30.6 629.8,30.6 631.2,30.6 632.5,30.6 633.9,30.6 635.3,30.6 636.7,30.6 638.0,30.6 639.4,30.6 639.4,29.3 640.8,29.3 642.1,29.3 643.5,29.3 644.9,29.3 646.3,29.3 647.6,29.3 649.0,29.3 650.4,29.3 651.7,29.3 653.1,29.3 654.5,29.3 655.8,29.3 657.2,29.3 658.6,29.3 660.0,29.3 661.3,29.3 662.7,29.3 664.1,29.3 664.1,27.9 665.4,27.9 666.8,27.9 668.2,27.9 669.6,27.9 670.9,27.9 672.3,27.9 673.7,27.9 675.0,27.9 676.4,27.9 677.8,27.9 679.1,27.9 680.5,27.9" fill="none" stroke="none" marker-start="url(#mS)" marker-mid="url(#mS)" marker-end="url(#mS)"/>
<polyline points="140.5,484.3 140.5,477.4 140.5,472.0 141.9,467.9 141.9,465.1 141.9,461.0 141.9,458.3 143.2,456.9 143.2,454.1 143.2,451.4 143.2,450.0 144.6,447.3 144.6,445.9 144.6,443.2 144.6,441.8 144.6,440.4 146.0,437.7 146.0,436.3 146.0,435.0 146.0,433.6 147.4,432.2 147.4,430.8 147.4,429.5 147.4,428.1 148.7,428.1 148.7,426.7 148.7,425.4 148.7,424.0 148.7,422.6 150.1,422.6 150.1,421.3 150.1,419.9 150.1,418.5 151.5,418.5 151.5,417.1 151.5,415.8 152.8,414.4 152.8,413.0 152.8,411.7 154.2,410.3 154.2,408.9 154.2,407.5 155.6,406.2 155.6,404.8 155.6,403.4 156.9,403.4 156.9,402.1 156.9,400.7 158.3,399.3 158.3,398.0 158.3,396.6 158.3,395.2 159.7,395.2 159.7,393.8 159.7,392.5 161.1,391.1 161.1,389.7 161.1,388.4 162.4,388.4 162.4,387.0 140.5,484.3 141.2,471.7 141.8,463.8 142.5,457.8 143.2,452.8 143.9,448.2 144.6,444.1 145.2,440.3 145.9,436.7 146.6,433.7 147.2,430.9 147.9,428.3 148.6,425.9 149.3,423.6 149.9,421.4 150.6,419.2 151.3,417.2 152.0,415.2 152.7,413.2 153.3,411.3 154.0,409.3 154.7,407.5 155.3,405.6 156.0,403.7 156.7,401.9 157.4,400.0 158.1,398.2 158.7,396.3 159.4,394.5 160.1,392.6 160.8,390.7 161.4,388.8 162.1,387.0 162.8,385.2 163.4,383.3 164.1,381.5 164.8,379.8 165.5,378.0 166.2,376.3 166.8,374.5 167.5,372.8 168.2,371.2 168.8,369.5 169.5,367.9 170.2,366.2 170.9,364.6 171.6,363.1 172.2,361.5 172.9,360.0 173.6,358.5 174.2,357.0 174.9,355.5 175.6,354.0 176.3,352.6 176.9,351.2 177.6,349.8 178.3,348.4 179.0,347.1 179.7,345.7 180.3,344.4 181.0,343.1 181.7,341.9 182.3,340.7 183.0,339.4 183.7,338.2 184.4,337.1 185.1,335.9 185.7,334.7 186.4,333.6 187.1,332.5 187.8,331.4 188.4,330.2 189.1,329.2 189.8,328.1 190.4,327.0 191.1,325.9 191.8,324.9 192.5,323.8 193.2,322.8 193.8,321.7 194.5,320.7 195.2,319.6 195.8,318.6 196.5,317.6 197.2,316.6 197.9,315.6 198.6,314.5 199.2,313.5 199.9,312.5 200.6,311.5 201.2,310.5 201.9,309.5 202.6,308.5 203.3,307.5 203.9,306.5 204.6,305.5 205.3,304.5 206.0,303.5 206.7,302.5 207.3,301.5 208.0,300.5 208.7,299.5 209.4,298.5 210.0,297.5 210.7,296.5 211.4,295.5 212.1,294.5 212.7,293.5 213.4,292.5 214.1,291.5 214.8,290.5 215.4,289.6 216.1,288.6 216.8,287.6 217.4,286.7 218.1,285.7 218.8,284.7 219.5,283.8 220.2,282.8 220.8,281.9 221.5,280.9 222.2,280.0 222.9,279.1 223.5,278.1 224.2,277.2 224.9,276.3 225.6,275.3 226.2,274.4 226.9,273.5 227.6,272.6 228.2,271.7 228.9,270.8 229.6,269.9 230.3,269.0 230.9,268.1 231.6,267.2 232.3,266.3 233.0,265.4 233.7,264.5 234.3,263.7 235.0,262.8 235.7,261.9 236.4,261.1 237.0,260.2 237.7,259.4 238.4,258.5 239.1,257.7 239.7,256.8 240.4,256.0 241.1,255.2 241.8,254.3 242.4,253.5 243.1,252.7 243.8,251.9 244.4,251.1 245.1,250.3 245.8,249.5 246.5,248.6 247.2,247.8 247.8,247.0 248.5,246.3 249.2,245.5 249.9,244.7 250.5,243.9 251.2,243.1 251.9,242.3 252.6,241.5 253.2,240.8 253.9,240.0 254.6,239.2 255.2,238.5 255.9,237.7 256.6,236.9 257.3,236.2 257.9,235.4 258.6,234.7 259.3,233.9 260.0,233.2 260.6,232.4 261.3,231.7 262.0,231.0 262.7,230.2 263.4,229.5 264.0,228.8 264.7,228.0 265.4,227.3 266.1,226.6 266.7,225.9 267.4,225.1 268.1,224.4 268.8,223.7 269.4,223.0 270.1,222.3 270.8,221.6 271.5,220.9 272.1,220.2 272.8,219.5 273.5,218.8 274.1,218.1 274.8,217.4 275.5,216.7 276.2,216.0 276.9,215.3 277.5,214.7 278.2,214.0 278.9,213.3 279.6,212.6 280.2,212.0 280.9,211.3 281.6,210.6 282.2,210.0 282.9,209.3 283.6,208.6 284.3,208.0 285.0,207.3 285.6,206.6 286.3,206.0 287.0,205.3 287.6,204.7 288.3,204.0 289.0,203.4 289.7,202.7 290.4,202.1 291.0,201.4 291.7,200.8 292.4,200.2 293.1,199.5 293.7,198.9 294.4,198.2 295.1,197.6 295.8,197.0 296.4,196.3 297.1,195.7 297.8,195.1 298.5,194.5 299.1,193.8 299.8,193.2 300.5,192.6 301.1,192.0 301.8,191.4 302.5,190.8 303.2,190.1 303.9,189.5 304.5,188.9 305.2,188.3 305.9,187.7 306.6,187.1 307.2,186.5 307.9,185.9 308.6,185.3 309.2,184.7 309.9,184.1 310.6,183.6 311.3,183.0 312.0,182.4 312.6,181.8 313.3,181.2 314.0,180.7 314.6,180.1 315.3,179.5 316.0,178.9 316.7,178.4 317.4,177.8 318.0,177.2 318.7,176.7 319.4,176.1 320.1,175.6 320.7,175.0 321.4,174.5 322.1,173.9 322.8,173.4 323.4,172.8 324.1,172.3 324.8,171.8 325.5,171.2 326.1,170.7 326.8,170.2 327.5,169.6 328.1,169.1 328.8,168.6 329.5,168.1 330.2,167.5 330.9,167.0 331.5,166.5 332.2,166.0 332.9,165.5 333.6,165.0 334.2,164.5 334.9,164.0 335.6,163.5 336.2,163.0 336.9,162.5 337.6,162.0 338.3,161.5 339.0,161.0 339.6,160.5 340.3,160.0 341.0,159.6 341.6,159.1 342.3,158.6 343.0,158.1 343.7,157.6 344.4,157.2 345.0,156.7 345.7,156.2 346.4,155.7 347.1,155.3 347.7,154.8 348.4,154.3 349.1,153.9 349.8,153.4 350.4,152.9 351.1,152.5 351.8,152.0 352.5,151.5 353.1,151.1 353.8,150.6 354.5,150.2 355.1,149.7 355.8,149.3 356.5,148.8 357.2,148.4 357.9,147.9 358.5,147.5 359.2,147.0 359.9,146.6 360.6,146.1 361.2,145.7 361.9,145.3 362.6,144.8 363.2,144.4 363.9,144.0 364.6,143.5 365.3,143.1 366.0,142.7 366.6,142.2 367.3,141.8 368.0,141.4 368.6,140.9 369.3,140.5 370.0,140.1 370.7,139.7 371.4,139.2 372.0,138.8 372.7,138.4 373.4,138.0 374.1,137.6 374.7,137.2 375.4,136.7 376.1,136.3 376.8,135.9 377.4,135.5 378.1,135.1 378.8,134.7 379.5,134.3 380.1,133.9 380.8,133.5 381.5,133.1 382.1,132.7 382.8,132.3 383.5,131.9 384.2,131.5 384.9,131.1 385.5,130.7 386.2,130.3 386.9,129.9 387.6,129.5 388.2,129.1 388.9,128.7 389.6,128.3 390.2,127.9 390.9,127.5 391.6,127.1 392.3,126.8 393.0,126.4 393.6,126.0 394.3,125.6 395.0,125.2 395.6,124.8 396.3,124.5 397.0,124.1 397.7,123.7 398.4,123.3 399.0,123.0 399.7,122.6 400.4,122.2 401.1,121.8 401.7,121.5 402.4,121.1 403.1,120.7 403.8,120.4 404.4,120.0 405.1,119.6 405.8,119.3 406.5,118.9 407.1,118.6 407.8,118.2 408.5,117.9 409.2,117.6 409.8,117.2 410.5,116.9 411.2,116.6 411.9,116.2 412.5,115.9 413.2,115.6 413.9,115.3 414.6,114.9 415.2,114.6 415.9,114.3 416.6,114.0 417.2,113.6 417.9,113.3 418.6,113.0 419.3,112.7 420.0,112.4 420.6,112.0 421.3,111.7 422.0,111.4 422.7,111.1 423.3,110.8 424.0,110.5 424.7,110.1 425.4,109.8 426.0,109.5 426.7,109.2 427.4,108.9 428.1,108.6 428.7,108.2 429.4,107.9 430.1,107.6 430.8,107.3 431.4,107.0 432.1,106.7 432.8,106.4 433.5,106.1 434.1,105.7 434.8,105.4 435.5,105.1 436.2,104.8 436.8,104.5 437.5,104.2 438.2,103.9 438.9,103.6 439.5,103.2 440.2,102.9 440.9,102.6 441.6,102.3 442.2,102.0 442.9,101.7 443.6,101.4 444.2,101.1 444.9,100.8 445.6,100.5 446.3,100.1 447.0,99.8 447.6,99.5 448.3,99.2 449.0,98.9 449.7,98.6 450.3,98.3 451.0,98.0 451.7,97.6 452.4,97.3 453.0,97.0 453.7,96.7 454.4,96.4 455.1,96.1 455.7,95.8 456.4,95.5 457.1,95.1 457.8,94.8 458.4,94.5 459.1,94.2 459.8,93.9 460.5,93.6 461.1,93.2 461.8,92.9 462.5,92.6 463.2,92.3 463.8,92.0 464.5,91.7 465.2,91.3 465.9,91.0 466.5,90.7 467.2,90.4 467.9,90.0 468.6,89.7 469.2,89.4 469.9,89.0 470.6,88.7 471.2,88.4 471.9,88.0 472.6,87.7 473.3,87.4 474.0,87.0 474.6,86.7 475.3,86.4 476.0,86.0 476.7,85.7 477.3,85.3 478.0,85.0 478.7,84.7 479.4,84.3 480.0,84.0 480.7,83.6 481.4,83.3 482.1,82.9 482.7,82.6 483.4,82.3 484.1,81.9 484.8,81.6 485.4,81.2 486.1,80.9 486.8,80.5 487.5,80.2 488.1,79.9 488.8,79.5 489.5,79.2 490.2,78.8 490.8,78.5 491.5,78.1 492.2,77.8 492.9,77.5 493.5,77.1 494.2,76.8 494.9,76.5 495.6,76.1 496.2,75.8 496.9,75.5 497.6,75.1 498.2,74.8 498.9,74.5 499.6,74.1 500.3,73.8 501.0,73.5 501.6,73.2 502.3,72.8 503.0,72.5 503.7,72.2 504.3,71.9 505.0,71.6 505.7,71.2 506.4,70.9 507.0,70.6 507.7,70.3 508.4,70.0 509.1,69.7 509.7,69.4 510.4,69.1 511.1,68.8 511.8,68.5 512.4,68.2 513.1,67.9 513.8,67.6 514.5,67.4 515.1,67.1 515.8,66.8 516.5,66.5 517.2,66.2 517.8,66.0 518.5,65.7 519.2,65.4 519.9,65.2 520.5,64.9 521.2,64.6 521.9,64.4 522.5,64.1 523.2,63.9 523.9,63.6 524.6,63.4 525.2,63.1 525.9,62.8 526.6,62.6 527.3,62.3 528.0,62.1 528.6,61.9 529.3,61.6 530.0,61.4 530.7,61.1 531.3,60.9 532.0,60.6 532.7,60.4 533.4,60.2 534.0,59.9 534.7,59.7 535.4,59.5 536.0,59.2 536.7,59.0 537.4,58.8 538.1,58.5 538.8,58.3 539.4,58.1 540.1,57.8 540.8,57.6 541.5,57.4 542.1,57.2 542.8,56.9 543.5,56.7 544.2,56.5 544.8,56.3 545.5,56.1 546.2,55.8 546.9,55.6 547.5,55.4 548.2,55.2 548.9,55.0 549.5,54.7 550.2,54.5 550.9,54.3 551.6,54.1 552.2,53.9 552.9,53.7 553.6,53.5 554.3,53.3 555.0,53.1 555.6,52.8 556.3,52.6 557.0,52.4 557.7,52.2 558.3,52.0 559.0,51.8 559.7,51.6 560.4,51.4 561.0,51.2 561.7,51.0 562.4,50.8 563.0,50.6 563.7,50.4 564.4,50.2 565.1,50.0 565.8,49.8 566.4,49.6 567.1,49.4 567.8,49.2 568.5,49.0 569.1,48.8 569.8,48.6 570.5,48.4 571.2,48.2 571.8,48.0 572.5,47.8 573.2,47.6 573.9,47.4 574.5,47.2 575.2,47.0 575.9,46.8 576.5,46.6 577.2,46.4 577.9,46.2 578.6,46.0 579.2,45.8 579.9,45.6 580.6,45.4 581.3,45.2 582.0,45.0 582.6,44.8 583.3,44.6 584.0,44.4 584.7,44.2 585.3,44.0 586.0,43.8 586.7,43.6 587.4,43.4 588.0,43.2 588.7,43.1 589.4,42.9 590.0,42.7 590.7,42.5 591.4,42.3 592.1,42.1 592.8,41.9 593.4,41.7 594.1,41.5 594.8,41.3 595.5,41.1 596.1,40.9 596.8,40.7 597.5,40.5 598.2,40.4 598.8,40.2 599.5,40.0 600.2,39.8 600.9,39.6 601.5,39.4 602.2,39.3 602.9,39.1 603.5,38.9 604.2,38.7 604.9,38.5 605.6,38.4 606.2,38.2 606.9,38.0 607.6,37.9 608.3,37.7 609.0,37.5 609.6,37.4 610.3,37.2 611.0,37.0 611.7,36.9 612.3,36.7 613.0,36.5 613.7,36.4 614.4,36.2 615.0,36.1 615.7,35.9 616.4,35.8 617.0,35.6 617.7,35.5 618.4,35.3 619.1,35.2 619.8,35.0 620.4,34.9 621.1,34.8 621.8,34.6 622.5,34.5 623.1,34.4 623.8,34.2 624.5,34.1 625.2,34.0 625.8,33.9 626.5,33.8 627.2,33.6 627.9,33.5 628.5,33.4 629.2,33.3 629.9,33.2 630.5,33.1 631.2,33.0 631.9,32.8 632.6,32.7 633.2,32.6 633.9,32.5 634.6,32.4 635.3,32.3 636.0,32.2 636.6,32.1 637.3,32.0 638.0,31.9 638.7,31.8 639.3,31.7 640.0,31.6 640.7,31.5 641.4,31.4 642.0,31.3 642.7,31.2 643.4,31.1 644.0,31.0 644.7,30.9 645.4,30.8 646.1,30.7 646.8,30.6 647.4,30.5 648.1,30.4 648.8,30.4 649.5,30.3 650.1,30.2 650.8,30.1 651.5,30.0 652.2,30.0 652.8,29.9 653.5,29.8 654.2,29.8 654.9,29.7 655.5,29.6 656.2,29.6 656.9,29.5 657.6,29.5 658.2,29.4 658.9,29.4 659.6,29.3 660.2,29.3 660.9,29.2 661.6,29.2 662.3,29.2 663.0,29.1 663.6,29.1 664.3,29.0 665.0,29.0 665.7,29.0 666.3,28.9 667.0,28.9 667.7,28.8 668.4,28.8 669.0,28.8 669.7,28.7 670.4,28.7 671.1,28.7 671.7,28.6 672.4,28.6 673.1,28.6 673.8,28.6 674.4,28.5 675.1,28.5 675.8,28.5 676.5,28.5 677.1,28.5 677.8,28.4 678.5,28.4 679.2,28.4 679.8,28.4 680.5,28.4" fill="none" stroke="none" marker-start="url(#mN)" marker-mid="url(#mN)" marker-end="url(#mN)"/>
<polyline points="140.5,484.3 140.5,477.4 140.5,472.0 141.9,467.9 141.9,465.1" fill="none" stroke="none" marker-start="url(#mNw)" marker-mid="url(#mNw)" marker-end="url(#mNw)"/>
<polyline points="680.5,27.9 680.5,27.9" fill="none" stroke="none" marker-start="url(#mNw)" marker-mid="url(#mNw)" marker-end="url(#mNw)"/>
<path d="M139.6,256.4L681,257.2" stroke="#4A7FBF" stroke-width="3" stroke-dasharray="9.8 6.41" fill="none"/>
<text x="127.0" y="489.8" font-size="15.8" fill="#000" text-anchor="end" textLength="18.2" lengthAdjust="spacingAndGlyphs">0%</text>
<text x="140.6" y="510.0" font-size="15.8" fill="#000" text-anchor="middle" textLength="18.2" lengthAdjust="spacingAndGlyphs">0%</text>
<text x="127.0" y="444.2" font-size="15.8" fill="#000" text-anchor="end" textLength="26.2" lengthAdjust="spacingAndGlyphs">10%</text>
<text x="194.6" y="510.0" font-size="15.8" fill="#000" text-anchor="middle" textLength="26.2" lengthAdjust="spacingAndGlyphs">10%</text>
<text x="127.0" y="398.6" font-size="15.8" fill="#000" text-anchor="end" textLength="26.2" lengthAdjust="spacingAndGlyphs">20%</text>
<text x="248.7" y="510.0" font-size="15.8" fill="#000" text-anchor="middle" textLength="26.2" lengthAdjust="spacingAndGlyphs">20%</text>
<text x="127.0" y="353.0" font-size="15.8" fill="#000" text-anchor="end" textLength="26.2" lengthAdjust="spacingAndGlyphs">30%</text>
<text x="302.8" y="510.0" font-size="15.8" fill="#000" text-anchor="middle" textLength="26.2" lengthAdjust="spacingAndGlyphs">30%</text>
<text x="127.0" y="307.4" font-size="15.8" fill="#000" text-anchor="end" textLength="26.2" lengthAdjust="spacingAndGlyphs">40%</text>
<text x="356.8" y="510.0" font-size="15.8" fill="#000" text-anchor="middle" textLength="26.2" lengthAdjust="spacingAndGlyphs">40%</text>
<text x="127.0" y="261.9" font-size="15.8" fill="#000" text-anchor="end" textLength="26.2" lengthAdjust="spacingAndGlyphs">50%</text>
<text x="410.9" y="510.0" font-size="15.8" fill="#000" text-anchor="middle" textLength="26.2" lengthAdjust="spacingAndGlyphs">50%</text>
<text x="127.0" y="216.3" font-size="15.8" fill="#000" text-anchor="end" textLength="26.2" lengthAdjust="spacingAndGlyphs">60%</text>
<text x="464.9" y="510.0" font-size="15.8" fill="#000" text-anchor="middle" textLength="26.2" lengthAdjust="spacingAndGlyphs">60%</text>
<text x="127.0" y="170.7" font-size="15.8" fill="#000" text-anchor="end" textLength="26.2" lengthAdjust="spacingAndGlyphs">70%</text>
<text x="518.9" y="510.0" font-size="15.8" fill="#000" text-anchor="middle" textLength="26.2" lengthAdjust="spacingAndGlyphs">70%</text>
<text x="127.0" y="125.1" font-size="15.8" fill="#000" text-anchor="end" textLength="26.2" lengthAdjust="spacingAndGlyphs">80%</text>
<text x="573.0" y="510.0" font-size="15.8" fill="#000" text-anchor="middle" textLength="26.2" lengthAdjust="spacingAndGlyphs">80%</text>
<text x="127.0" y="79.5" font-size="15.8" fill="#000" text-anchor="end" textLength="26.2" lengthAdjust="spacingAndGlyphs">90%</text>
<text x="627.0" y="510.0" font-size="15.8" fill="#000" text-anchor="middle" textLength="26.2" lengthAdjust="spacingAndGlyphs">90%</text>
<text x="127.0" y="33.9" font-size="15.8" fill="#000" text-anchor="end" textLength="33.2" lengthAdjust="spacingAndGlyphs">100%</text>
<text x="681.1" y="510.0" font-size="15.8" fill="#000" text-anchor="middle" textLength="33.2" lengthAdjust="spacingAndGlyphs">100%</text>
<text x="411.1" y="529.6" font-size="20.8" fill="#000" text-anchor="middle" textLength="180" lengthAdjust="spacingAndGlyphs">Cumulative % of articles</text>
<text transform="translate(77.3,266.8) rotate(-90)" font-size="20.8" fill="#000" text-anchor="middle" textLength="189" lengthAdjust="spacingAndGlyphs">Cumulative % of citations</text>
<path d="M721.4,57.4 l3.6,3.6 l-3.6,3.6 l-3.6,-3.6Z" fill="#fff" stroke="#604A7B" stroke-width="1.4"/>
<text x="729.4" y="66.6" font-size="17.3" fill="#595959" textLength="33.0" lengthAdjust="spacingAndGlyphs">eLife</text>
<rect x="718.05" y="100.71" width="6.7" height="6.7" fill="#fff" stroke="#27707F" stroke-width="1.25"/>
<text x="729.4" y="109.7" font-size="17.3" fill="#595959" textLength="60.0" lengthAdjust="spacingAndGlyphs">EMBO J.</text>
<rect x="718.05" y="143.77" width="6.7" height="6.7" fill="#fff" stroke="#C0504D" stroke-width="1.25"/>
<text x="729.4" y="152.7" font-size="17.3" fill="#595959" textLength="94.6" lengthAdjust="spacingAndGlyphs">J. Informetrics</text>
<path d="M721.4,186.6 l3.6,3.6 l-3.6,3.6 l-3.6,-3.6Z" fill="#fff" stroke="#4F81BD" stroke-width="1.4"/>
<text x="729.4" y="195.8" font-size="17.3" fill="#595959" textLength="45.8" lengthAdjust="spacingAndGlyphs">Nature</text>
<path d="M721.4,229.6 l3.4,6.6 h-6.8Z" fill="#fff" stroke="#9BBB59" stroke-width="1.4"/>
<text x="729.4" y="238.8" font-size="17.3" fill="#595959" textLength="98.2" lengthAdjust="spacingAndGlyphs">Nature Comm.</text>
<path d="M717.8,272.7 l7.2,7.2 m0,-7.2 l-7.2,7.2" fill="none" stroke="#8064A2" stroke-width="1.3"/>
<text x="729.4" y="281.9" font-size="17.3" fill="#595959" textLength="73.6" lengthAdjust="spacingAndGlyphs">PLOS Biol.</text>
<path d="M718.2,316.2 l6.4,6.4 m0,-6.4 l-6.4,6.4 M721.4,315.6 v7.6" fill="none" stroke="#4BACC6" stroke-width="1.3"/>
<text x="729.4" y="325.0" font-size="17.3" fill="#595959" textLength="89.6" lengthAdjust="spacingAndGlyphs">PLOS Genet.</text>
<circle cx="721.4" cy="362.4" r="3.55" fill="#fff" stroke="#F79646" stroke-width="1.25"/>
<text x="729.4" y="368.0" font-size="17.3" fill="#595959" textLength="77.2" lengthAdjust="spacingAndGlyphs">PLOS ONE</text>
<path d="M717.2,405.5 h8.4 M721.4,401.3 v8.4" fill="none" stroke="#254061" stroke-width="1.3"/>
<text x="729.4" y="411.1" font-size="17.3" fill="#595959" textLength="102.6" lengthAdjust="spacingAndGlyphs">Proc. R. Soc. B</text>
<circle cx="721.4" cy="448.5" r="3.55" fill="#fff" stroke="#77933C" stroke-width="1.25"/>
<text x="729.4" y="454.1" font-size="17.3" fill="#595959" textLength="55.0" lengthAdjust="spacingAndGlyphs">Science</text>
<path d="M721.4,488.0 l3.4,6.6 h-6.8Z" fill="#fff" stroke="#2A5587" stroke-width="1.4"/>
<text x="729.4" y="497.2" font-size="17.3" fill="#595959" textLength="62.0" lengthAdjust="spacingAndGlyphs">Sci. Rep.</text>
<text x="54.3" y="585.7" font-size="21.8" fill="#000" textLength="733.2" lengthAdjust="spacingAndGlyphs"><tspan font-weight="bold">Fig 3.</tspan> The cumulative % of citations and articles plotted for the 11 journals</text>
<text x="54.3" y="610.8" font-size="21.8" fill="#000" textLength="719.2" lengthAdjust="spacingAndGlyphs">included in this study. The plots for all the journals are very similar, which</text>
<text x="54.3" y="636.0" font-size="21.8" fill="#000" textLength="591.4" lengthAdjust="spacingAndGlyphs">reflects the skewness of the distributions shown in Figure 1.</text>
</svg>
</body></html>
